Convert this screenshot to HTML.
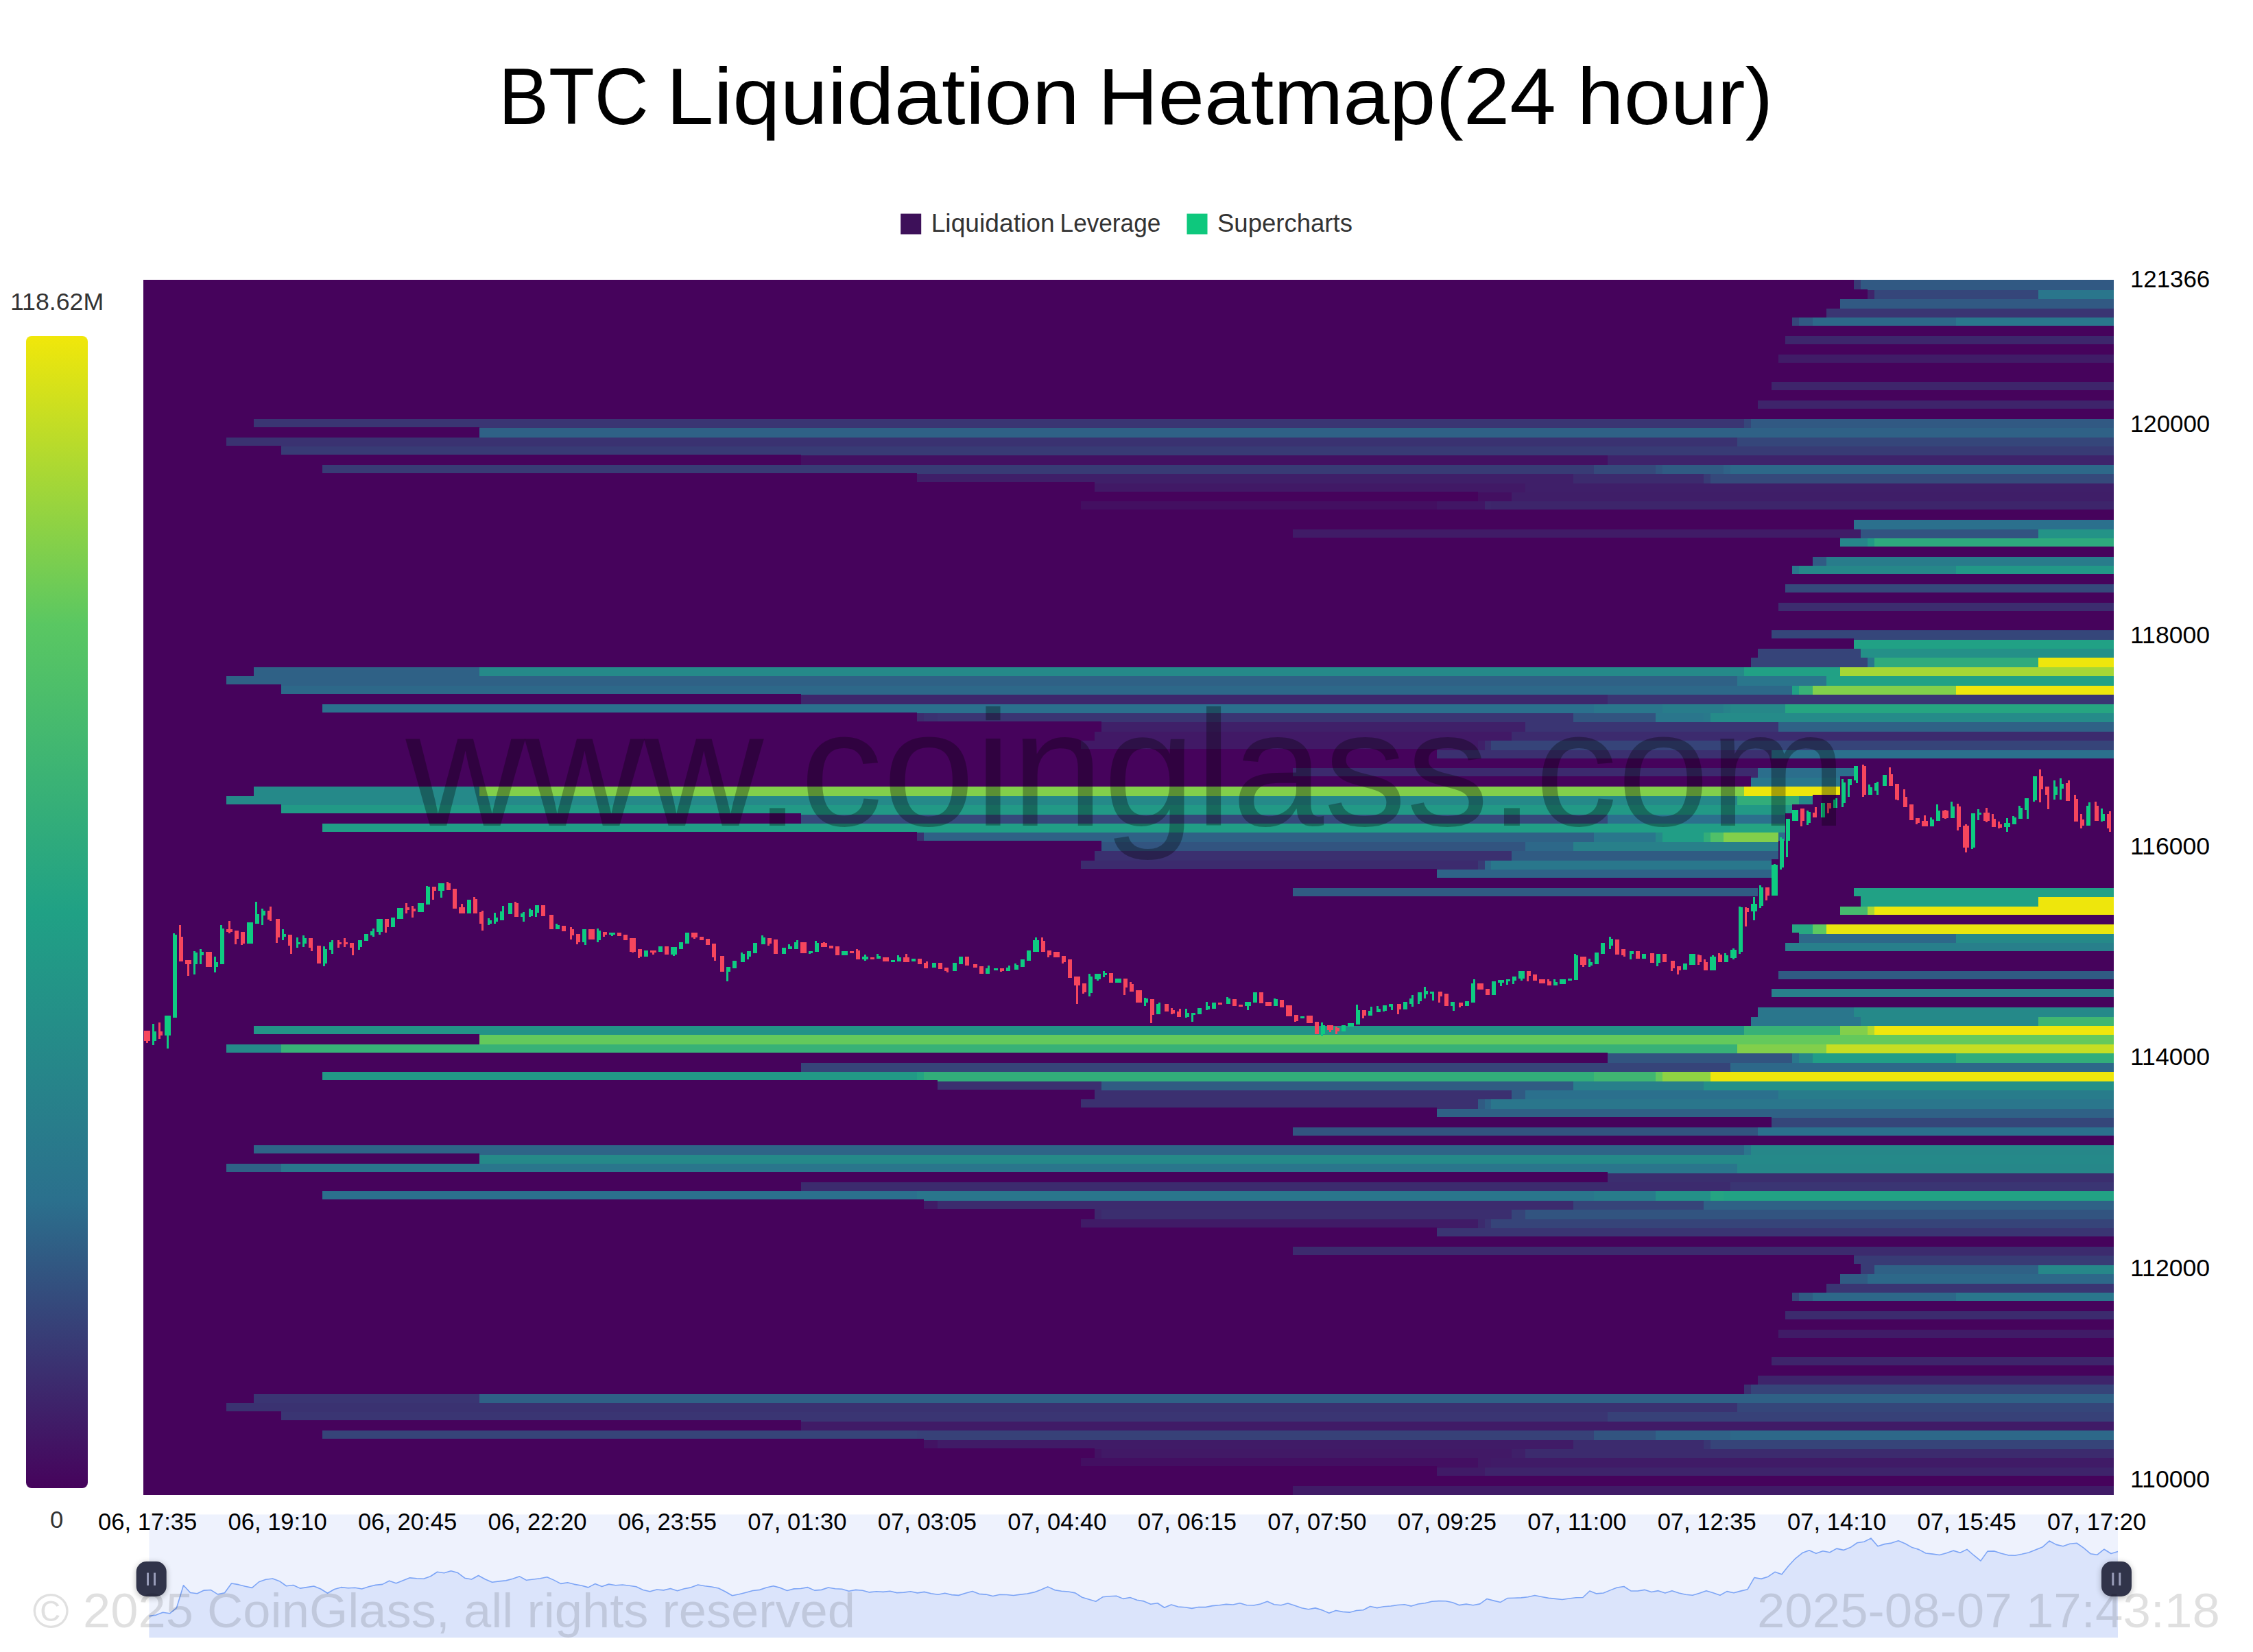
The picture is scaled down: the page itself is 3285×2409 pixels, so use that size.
<!DOCTYPE html>
<html><head><meta charset="utf-8"><title>BTC Liquidation Heatmap</title>
<style>
html,body{margin:0;padding:0;background:#fff;}
body{width:3285px;height:2409px;overflow:hidden;font-family:"Liberation Sans",sans-serif;}
svg{display:block;position:absolute;left:0;top:0;}
svg text{font-family:"Liberation Sans",sans-serif;white-space:pre;}
</style></head><body>
<svg width="3285" height="2409" viewBox="0 0 3285 2409">
<defs><filter id="hb" x="-50%" y="-50%" width="200%" height="200%"><feGaussianBlur stdDeviation="5"/></filter><linearGradient id="cb" x1="0" y1="0" x2="0" y2="1"><stop offset="0" stop-color="#f1e70a"/><stop offset="0.25" stop-color="#5ac762"/><stop offset="0.5" stop-color="#20a185"/><stop offset="0.75" stop-color="#2b708d"/><stop offset="1" stop-color="#46035c"/></linearGradient></defs>
<g id="slider"><rect x="217.5" y="2208.5" width="2870.5" height="179.5" fill="#eef2fd"/>
<path d="M217.5 2356.62 L227.5 2355.12 L237.5 2351.22 L247.51 2352.8 L257.51 2344.58 L267.51 2311.71 L277.51 2322.56 L287.51 2323.83 L297.51 2319.08 L307.52 2318.56 L317.52 2324.88 L327.52 2322.77 L337.52 2309.07 L347.52 2310.65 L357.52 2313.29 L367.53 2315.4 L377.53 2306.76 L387.53 2303.28 L397.53 2302.01 L407.53 2305.7 L417.53 2312.76 L427.54 2311.5 L437.54 2316.13 L447.54 2314.66 L457.54 2312.97 L467.54 2316.98 L477.55 2323.3 L487.55 2317.5 L497.55 2314.66 L507.55 2315.71 L517.55 2315.19 L527.55 2316.98 L537.56 2313.82 L547.56 2311.39 L557.56 2310.34 L567.56 2305.17 L577.56 2308.76 L587.56 2304.86 L597.57 2300.85 L607.57 2301.7 L617.57 2302.22 L627.57 2298.75 L637.57 2292.21 L647.57 2293.79 L657.58 2290.84 L667.58 2293.58 L677.58 2301.17 L687.58 2302.96 L697.58 2297.48 L707.59 2303.07 L717.59 2307.28 L727.59 2305.91 L737.59 2304.86 L747.59 2302.22 L757.59 2298.85 L767.6 2304.33 L777.6 2303.07 L787.6 2301.7 L797.6 2299.8 L807.6 2304.12 L817.6 2309.39 L827.61 2307.81 L837.61 2310.34 L847.61 2311.92 L857.61 2314.87 L867.61 2309.6 L877.61 2313.6 L887.62 2310.13 L897.62 2311.71 L907.62 2310.97 L917.62 2312.23 L927.62 2313.82 L937.63 2318.56 L947.63 2320.66 L957.63 2318.03 L967.63 2318.87 L977.63 2316.45 L987.63 2319.82 L997.64 2316.77 L1007.64 2314.87 L1017.64 2310.97 L1027.64 2312.76 L1037.64 2314.03 L1047.64 2315.92 L1057.65 2321.04 L1067.65 2326.69 L1077.65 2324.77 L1087.65 2322.22 L1097.65 2319.44 L1107.66 2318.38 L1117.66 2314.97 L1127.66 2312.83 L1137.66 2315.39 L1147.66 2319.44 L1157.66 2316.88 L1167.67 2316.56 L1177.67 2314.65 L1187.67 2319.12 L1197.67 2318.38 L1207.67 2314.97 L1217.67 2316.78 L1227.68 2317.31 L1237.68 2320.19 L1247.68 2318.38 L1257.68 2319.23 L1267.68 2321.9 L1277.68 2320.72 L1287.69 2321.36 L1297.69 2320.3 L1307.69 2322.64 L1317.69 2322.11 L1327.69 2320.83 L1337.7 2322.85 L1347.7 2321.36 L1357.7 2323.71 L1367.7 2325.31 L1377.7 2323.17 L1387.7 2325.63 L1397.71 2326.37 L1407.71 2323.17 L1417.71 2320.51 L1427.71 2324.35 L1437.71 2325.09 L1447.71 2327.55 L1457.72 2325.31 L1467.72 2325.52 L1477.72 2326.48 L1487.72 2325.09 L1497.72 2324.03 L1507.72 2321.9 L1517.73 2318.16 L1527.73 2313.9 L1537.73 2318.59 L1547.73 2320.19 L1557.73 2321.04 L1567.74 2322.85 L1577.74 2329.25 L1587.74 2332.24 L1597.74 2335.22 L1607.74 2328.82 L1617.74 2327.76 L1627.75 2327.23 L1637.75 2331.38 L1647.75 2329.57 L1657.75 2333.3 L1667.75 2334.9 L1677.75 2339.27 L1687.76 2337.78 L1697.76 2344.28 L1707.76 2340.02 L1717.76 2343.11 L1727.76 2343.75 L1737.76 2345.35 L1747.77 2343.43 L1757.77 2343.64 L1767.77 2341.62 L1777.77 2340.77 L1787.77 2339.38 L1797.78 2340.02 L1807.78 2337.78 L1817.78 2340.77 L1827.78 2340.98 L1837.78 2338.95 L1847.78 2335.22 L1857.79 2339.7 L1867.79 2340.77 L1877.79 2338.1 L1887.79 2341.3 L1897.79 2344.82 L1907.79 2346.78 L1917.8 2344.86 L1927.8 2347.86 L1937.8 2352.16 L1947.8 2348.47 L1957.8 2350.4 L1967.8 2351.16 L1977.81 2348.47 L1987.81 2347.71 L1997.81 2342.56 L2007.81 2344.63 L2017.81 2342.71 L2027.82 2341.94 L2037.82 2340.56 L2047.82 2339.79 L2057.82 2342.1 L2067.82 2339.02 L2077.82 2337.71 L2087.83 2335.18 L2097.83 2334.64 L2107.83 2334.79 L2117.83 2336.79 L2127.83 2340.64 L2137.83 2339.1 L2147.84 2340.79 L2157.84 2338.87 L2167.84 2331.57 L2177.84 2334.1 L2187.84 2336.41 L2197.84 2330.57 L2207.85 2330.18 L2217.85 2329.88 L2227.85 2328.72 L2237.85 2326.42 L2247.85 2328.49 L2257.86 2330.41 L2267.86 2331.41 L2277.86 2332.49 L2287.86 2330.95 L2297.86 2329.8 L2307.86 2329.49 L2317.87 2320.04 L2327.87 2323.88 L2337.87 2322.96 L2347.87 2318.88 L2357.87 2315.04 L2367.87 2313.5 L2377.88 2319.88 L2387.88 2320.04 L2397.88 2318.35 L2407.88 2321.42 L2417.88 2319.65 L2427.89 2323.11 L2437.89 2319.65 L2447.89 2322.96 L2457.89 2325.26 L2467.89 2326.19 L2477.89 2323.34 L2487.9 2319.65 L2497.9 2322.77 L2507.9 2326.2 L2517.9 2320.64 L2527.9 2322.77 L2537.9 2320.11 L2547.91 2317.83 L2557.91 2300.55 L2567.91 2302.38 L2577.91 2299.18 L2587.91 2292.33 L2597.91 2295.76 L2607.92 2283.21 L2617.92 2272.56 L2627.92 2264.57 L2637.92 2260.76 L2647.92 2265.33 L2657.93 2261.68 L2667.93 2263.81 L2677.93 2258.1 L2687.93 2260.38 L2697.93 2256.58 L2707.93 2249.73 L2717.94 2248.21 L2727.94 2243.11 L2737.94 2254.68 L2747.94 2251.63 L2757.94 2250.11 L2767.94 2246.68 L2777.95 2251.02 L2787.95 2256.58 L2797.95 2259.62 L2807.95 2264.95 L2817.95 2266.09 L2827.95 2267.46 L2837.96 2264.72 L2847.96 2261.14 L2857.96 2264.19 L2867.96 2259.39 L2877.96 2267.99 L2887.97 2276.14 L2897.97 2262.13 L2907.97 2261.9 L2917.97 2265.33 L2927.97 2267.84 L2937.97 2268.22 L2947.98 2266.24 L2957.98 2263.96 L2967.98 2260 L2977.98 2256.04 L2987.98 2247.06 L2997.98 2252.39 L3007.99 2254.68 L3017.99 2251.25 L3027.99 2250.26 L3037.99 2257.19 L3047.99 2265.71 L3057.99 2267.23 L3068 2259.24 L3078 2265.48 L3088 2262.44 L3088 2388 L217.5 2388 Z" fill="#dbe4fb"/>
<path d="M217.5 2356.62 L227.5 2355.12 L237.5 2351.22 L247.51 2352.8 L257.51 2344.58 L267.51 2311.71 L277.51 2322.56 L287.51 2323.83 L297.51 2319.08 L307.52 2318.56 L317.52 2324.88 L327.52 2322.77 L337.52 2309.07 L347.52 2310.65 L357.52 2313.29 L367.53 2315.4 L377.53 2306.76 L387.53 2303.28 L397.53 2302.01 L407.53 2305.7 L417.53 2312.76 L427.54 2311.5 L437.54 2316.13 L447.54 2314.66 L457.54 2312.97 L467.54 2316.98 L477.55 2323.3 L487.55 2317.5 L497.55 2314.66 L507.55 2315.71 L517.55 2315.19 L527.55 2316.98 L537.56 2313.82 L547.56 2311.39 L557.56 2310.34 L567.56 2305.17 L577.56 2308.76 L587.56 2304.86 L597.57 2300.85 L607.57 2301.7 L617.57 2302.22 L627.57 2298.75 L637.57 2292.21 L647.57 2293.79 L657.58 2290.84 L667.58 2293.58 L677.58 2301.17 L687.58 2302.96 L697.58 2297.48 L707.59 2303.07 L717.59 2307.28 L727.59 2305.91 L737.59 2304.86 L747.59 2302.22 L757.59 2298.85 L767.6 2304.33 L777.6 2303.07 L787.6 2301.7 L797.6 2299.8 L807.6 2304.12 L817.6 2309.39 L827.61 2307.81 L837.61 2310.34 L847.61 2311.92 L857.61 2314.87 L867.61 2309.6 L877.61 2313.6 L887.62 2310.13 L897.62 2311.71 L907.62 2310.97 L917.62 2312.23 L927.62 2313.82 L937.63 2318.56 L947.63 2320.66 L957.63 2318.03 L967.63 2318.87 L977.63 2316.45 L987.63 2319.82 L997.64 2316.77 L1007.64 2314.87 L1017.64 2310.97 L1027.64 2312.76 L1037.64 2314.03 L1047.64 2315.92 L1057.65 2321.04 L1067.65 2326.69 L1077.65 2324.77 L1087.65 2322.22 L1097.65 2319.44 L1107.66 2318.38 L1117.66 2314.97 L1127.66 2312.83 L1137.66 2315.39 L1147.66 2319.44 L1157.66 2316.88 L1167.67 2316.56 L1177.67 2314.65 L1187.67 2319.12 L1197.67 2318.38 L1207.67 2314.97 L1217.67 2316.78 L1227.68 2317.31 L1237.68 2320.19 L1247.68 2318.38 L1257.68 2319.23 L1267.68 2321.9 L1277.68 2320.72 L1287.69 2321.36 L1297.69 2320.3 L1307.69 2322.64 L1317.69 2322.11 L1327.69 2320.83 L1337.7 2322.85 L1347.7 2321.36 L1357.7 2323.71 L1367.7 2325.31 L1377.7 2323.17 L1387.7 2325.63 L1397.71 2326.37 L1407.71 2323.17 L1417.71 2320.51 L1427.71 2324.35 L1437.71 2325.09 L1447.71 2327.55 L1457.72 2325.31 L1467.72 2325.52 L1477.72 2326.48 L1487.72 2325.09 L1497.72 2324.03 L1507.72 2321.9 L1517.73 2318.16 L1527.73 2313.9 L1537.73 2318.59 L1547.73 2320.19 L1557.73 2321.04 L1567.74 2322.85 L1577.74 2329.25 L1587.74 2332.24 L1597.74 2335.22 L1607.74 2328.82 L1617.74 2327.76 L1627.75 2327.23 L1637.75 2331.38 L1647.75 2329.57 L1657.75 2333.3 L1667.75 2334.9 L1677.75 2339.27 L1687.76 2337.78 L1697.76 2344.28 L1707.76 2340.02 L1717.76 2343.11 L1727.76 2343.75 L1737.76 2345.35 L1747.77 2343.43 L1757.77 2343.64 L1767.77 2341.62 L1777.77 2340.77 L1787.77 2339.38 L1797.78 2340.02 L1807.78 2337.78 L1817.78 2340.77 L1827.78 2340.98 L1837.78 2338.95 L1847.78 2335.22 L1857.79 2339.7 L1867.79 2340.77 L1877.79 2338.1 L1887.79 2341.3 L1897.79 2344.82 L1907.79 2346.78 L1917.8 2344.86 L1927.8 2347.86 L1937.8 2352.16 L1947.8 2348.47 L1957.8 2350.4 L1967.8 2351.16 L1977.81 2348.47 L1987.81 2347.71 L1997.81 2342.56 L2007.81 2344.63 L2017.81 2342.71 L2027.82 2341.94 L2037.82 2340.56 L2047.82 2339.79 L2057.82 2342.1 L2067.82 2339.02 L2077.82 2337.71 L2087.83 2335.18 L2097.83 2334.64 L2107.83 2334.79 L2117.83 2336.79 L2127.83 2340.64 L2137.83 2339.1 L2147.84 2340.79 L2157.84 2338.87 L2167.84 2331.57 L2177.84 2334.1 L2187.84 2336.41 L2197.84 2330.57 L2207.85 2330.18 L2217.85 2329.88 L2227.85 2328.72 L2237.85 2326.42 L2247.85 2328.49 L2257.86 2330.41 L2267.86 2331.41 L2277.86 2332.49 L2287.86 2330.95 L2297.86 2329.8 L2307.86 2329.49 L2317.87 2320.04 L2327.87 2323.88 L2337.87 2322.96 L2347.87 2318.88 L2357.87 2315.04 L2367.87 2313.5 L2377.88 2319.88 L2387.88 2320.04 L2397.88 2318.35 L2407.88 2321.42 L2417.88 2319.65 L2427.89 2323.11 L2437.89 2319.65 L2447.89 2322.96 L2457.89 2325.26 L2467.89 2326.19 L2477.89 2323.34 L2487.9 2319.65 L2497.9 2322.77 L2507.9 2326.2 L2517.9 2320.64 L2527.9 2322.77 L2537.9 2320.11 L2547.91 2317.83 L2557.91 2300.55 L2567.91 2302.38 L2577.91 2299.18 L2587.91 2292.33 L2597.91 2295.76 L2607.92 2283.21 L2617.92 2272.56 L2627.92 2264.57 L2637.92 2260.76 L2647.92 2265.33 L2657.93 2261.68 L2667.93 2263.81 L2677.93 2258.1 L2687.93 2260.38 L2697.93 2256.58 L2707.93 2249.73 L2717.94 2248.21 L2727.94 2243.11 L2737.94 2254.68 L2747.94 2251.63 L2757.94 2250.11 L2767.94 2246.68 L2777.95 2251.02 L2787.95 2256.58 L2797.95 2259.62 L2807.95 2264.95 L2817.95 2266.09 L2827.95 2267.46 L2837.96 2264.72 L2847.96 2261.14 L2857.96 2264.19 L2867.96 2259.39 L2877.96 2267.99 L2887.97 2276.14 L2897.97 2262.13 L2907.97 2261.9 L2917.97 2265.33 L2927.97 2267.84 L2937.97 2268.22 L2947.98 2266.24 L2957.98 2263.96 L2967.98 2260 L2977.98 2256.04 L2987.98 2247.06 L2997.98 2252.39 L3007.99 2254.68 L3017.99 2251.25 L3027.99 2250.26 L3037.99 2257.19 L3047.99 2265.71 L3057.99 2267.23 L3068 2259.24 L3078 2265.48 L3088 2262.44" fill="none" stroke="#7da5f6" stroke-width="1.6" stroke-linejoin="round"/>
<rect x="198.7" y="2279" width="44" height="51" rx="15" fill="#000" opacity="0.28" filter="url(#hb)"/><rect x="198.7" y="2277" width="44" height="51" rx="15" fill="#31344a"/><rect x="214" y="2293.5" width="3" height="18.5" fill="#989cb8"/><rect x="224" y="2293.5" width="3" height="18.5" fill="#989cb8"/>
<rect x="3064" y="2279" width="44" height="51" rx="15" fill="#000" opacity="0.28" filter="url(#hb)"/><rect x="3064" y="2277" width="44" height="51" rx="15" fill="#31344a"/><rect x="3079.3" y="2293.5" width="3" height="18.5" fill="#989cb8"/><rect x="3089.3" y="2293.5" width="3" height="18.5" fill="#989cb8"/></g>
<g id="legend"><rect x="38" y="490" width="90" height="1680" rx="8" fill="url(#cb)"/><rect x="1313.2" y="311.6" width="30" height="30" fill="#3d1059"/><rect x="1730.5" y="311.6" width="30" height="30" fill="#0ec87d"/></g>
<g id="heat" shape-rendering="crispEdges">
<rect x="209" y="408" width="2872.5" height="1771.5" fill="#46035c"/>
<rect x="2702.85" y="408" width="9.97" height="13.5" fill="#383b75"/>
<rect x="2712.82" y="408" width="9.97" height="13.5" fill="#315983"/>
<rect x="2722.79" y="408" width="358.71" height="14.91" fill="#315983"/>
<rect x="2722.79" y="422.91" width="9.97" height="13.41" fill="#3e256b"/>
<rect x="2732.76" y="422.91" width="239.26" height="13.41" fill="#35467a"/>
<rect x="2972.01" y="422.91" width="109.49" height="13.41" fill="#2a768c"/>
<rect x="2682.91" y="436.33" width="398.59" height="13.41" fill="#315983"/>
<rect x="2662.97" y="449.74" width="418.53" height="13.41" fill="#3a3573"/>
<rect x="2613.13" y="463.16" width="9.97" height="12" fill="#35467a"/>
<rect x="2623.1" y="463.16" width="19.94" height="12" fill="#315983"/>
<rect x="2643.04" y="463.16" width="209.35" height="12" fill="#2d6889"/>
<rect x="2852.38" y="463.16" width="229.12" height="12" fill="#2a768c"/>
<rect x="2603.16" y="489.98" width="478.34" height="12" fill="#3d276c"/>
<rect x="2593.19" y="516.81" width="488.31" height="12" fill="#401c67"/>
<rect x="2583.22" y="557.05" width="498.28" height="12" fill="#3e256b"/>
<rect x="2563.28" y="583.88" width="518.22" height="12" fill="#3e246b"/>
<rect x="370.1" y="610.71" width="328.98" height="12" fill="#3a3573"/>
<rect x="699.08" y="610.71" width="1844.26" height="13.41" fill="#3a3573"/>
<rect x="2543.35" y="610.71" width="9.97" height="13.41" fill="#35467a"/>
<rect x="2553.31" y="610.71" width="528.19" height="13.41" fill="#315983"/>
<rect x="699.08" y="624.12" width="2382.42" height="13.41" fill="#2f6186"/>
<rect x="330.23" y="637.54" width="79.75" height="12" fill="#3a3271"/>
<rect x="409.98" y="637.54" width="2123.4" height="13.41" fill="#3a3271"/>
<rect x="2533.38" y="637.54" width="548.12" height="13.41" fill="#35467a"/>
<rect x="409.98" y="650.95" width="757.64" height="12" fill="#383b75"/>
<rect x="1167.62" y="650.95" width="1913.88" height="13.41" fill="#383b75"/>
<rect x="1167.62" y="664.37" width="1176.34" height="13.41" fill="#431062"/>
<rect x="2343.97" y="664.37" width="737.53" height="13.41" fill="#3e236b"/>
<rect x="469.79" y="677.78" width="867.3" height="12" fill="#383b75"/>
<rect x="1337.1" y="677.78" width="986.93" height="13.41" fill="#383b75"/>
<rect x="2324.03" y="677.78" width="89.72" height="13.41" fill="#35497b"/>
<rect x="2413.75" y="677.78" width="9.97" height="13.41" fill="#325480"/>
<rect x="2423.72" y="677.78" width="89.72" height="13.41" fill="#305b83"/>
<rect x="2513.44" y="677.78" width="9.97" height="13.41" fill="#2f6287"/>
<rect x="2523.41" y="677.78" width="558.09" height="13.41" fill="#2d6889"/>
<rect x="1337.1" y="691.19" width="259.19" height="12" fill="#3f1f69"/>
<rect x="1596.29" y="691.19" width="697.83" height="13.41" fill="#3f1f69"/>
<rect x="2294.12" y="691.19" width="189.41" height="13.41" fill="#3c2b6e"/>
<rect x="2483.53" y="691.19" width="9.97" height="13.41" fill="#383b75"/>
<rect x="2493.5" y="691.19" width="588" height="13.41" fill="#35497b"/>
<rect x="1596.29" y="704.61" width="558.26" height="12" fill="#411966"/>
<rect x="2154.55" y="704.61" width="69.78" height="13.41" fill="#411966"/>
<rect x="2224.34" y="704.61" width="857.16" height="13.41" fill="#3f1f69"/>
<rect x="2154.55" y="718.02" width="49.85" height="13.41" fill="#430f61"/>
<rect x="2204.4" y="718.02" width="877.1" height="13.41" fill="#3f1e68"/>
<rect x="1576.35" y="731.44" width="518.39" height="12" fill="#430f61"/>
<rect x="2094.74" y="731.44" width="69.78" height="12" fill="#411665"/>
<rect x="2164.52" y="731.44" width="9.97" height="12" fill="#3d276c"/>
<rect x="2174.49" y="731.44" width="907.01" height="12" fill="#3d256b"/>
<rect x="2702.85" y="758.26" width="378.65" height="13.41" fill="#2b708d"/>
<rect x="1885.39" y="771.68" width="797.52" height="12" fill="#401b67"/>
<rect x="2682.91" y="771.68" width="29.91" height="13.41" fill="#401b67"/>
<rect x="2712.82" y="771.68" width="259.19" height="13.41" fill="#325481"/>
<rect x="2972.01" y="771.68" width="109.49" height="13.41" fill="#239387"/>
<rect x="2682.91" y="785.09" width="39.88" height="12" fill="#26858a"/>
<rect x="2722.79" y="785.09" width="9.97" height="12" fill="#229886"/>
<rect x="2732.76" y="785.09" width="348.74" height="12" fill="#2eaa7d"/>
<rect x="2643.04" y="811.92" width="19.94" height="13.41" fill="#305b84"/>
<rect x="2662.97" y="811.92" width="418.53" height="13.41" fill="#287c8b"/>
<rect x="2613.13" y="825.33" width="9.97" height="12" fill="#29778c"/>
<rect x="2623.1" y="825.33" width="229.29" height="12" fill="#268789"/>
<rect x="2852.38" y="825.33" width="229.12" height="12" fill="#229887"/>
<rect x="2603.16" y="852.16" width="478.34" height="12" fill="#35497b"/>
<rect x="2593.19" y="878.99" width="488.31" height="12" fill="#3c2d6f"/>
<rect x="2583.22" y="919.23" width="119.63" height="12" fill="#35467a"/>
<rect x="2702.85" y="919.23" width="378.65" height="13.41" fill="#35467a"/>
<rect x="2702.85" y="932.65" width="378.65" height="13.41" fill="#21a185"/>
<rect x="2563.28" y="946.06" width="149.54" height="13.41" fill="#364479"/>
<rect x="2712.82" y="946.06" width="368.68" height="13.41" fill="#249088"/>
<rect x="2553.31" y="959.47" width="169.47" height="13.41" fill="#364479"/>
<rect x="2722.79" y="959.47" width="9.97" height="13.41" fill="#29778c"/>
<rect x="2732.76" y="959.47" width="239.26" height="13.41" fill="#2fab7c"/>
<rect x="2972.01" y="959.47" width="109.49" height="13.41" fill="#eee60c"/>
<rect x="370.1" y="972.89" width="328.98" height="13.41" fill="#2f6186"/>
<rect x="699.08" y="972.89" width="1844.26" height="13.41" fill="#258989"/>
<rect x="2543.35" y="972.89" width="139.57" height="13.41" fill="#21a185"/>
<rect x="2682.91" y="972.89" width="398.59" height="13.41" fill="#a5d736"/>
<rect x="330.23" y="986.3" width="79.75" height="12" fill="#2f6186"/>
<rect x="409.98" y="986.3" width="2123.4" height="13.41" fill="#2f6186"/>
<rect x="2533.38" y="986.3" width="129.6" height="13.41" fill="#2a768c"/>
<rect x="2662.97" y="986.3" width="418.53" height="13.41" fill="#21a185"/>
<rect x="409.98" y="999.72" width="757.64" height="12" fill="#2d6889"/>
<rect x="1167.62" y="999.72" width="1445.51" height="13.41" fill="#2d6889"/>
<rect x="2613.13" y="999.72" width="9.97" height="13.41" fill="#20a085"/>
<rect x="2623.1" y="999.72" width="19.94" height="13.41" fill="#38b177"/>
<rect x="2643.04" y="999.72" width="209.35" height="13.41" fill="#82cf4b"/>
<rect x="2852.38" y="999.72" width="229.12" height="13.41" fill="#eee60c"/>
<rect x="1167.62" y="1013.13" width="1176.34" height="13.41" fill="#3d276c"/>
<rect x="2343.97" y="1013.13" width="737.53" height="13.41" fill="#3a3573"/>
<rect x="469.79" y="1026.54" width="867.3" height="12" fill="#2b708d"/>
<rect x="1337.1" y="1026.54" width="986.93" height="13.41" fill="#2b708d"/>
<rect x="2324.03" y="1026.54" width="99.69" height="13.41" fill="#2a768c"/>
<rect x="2423.72" y="1026.54" width="89.72" height="13.41" fill="#287c8b"/>
<rect x="2513.44" y="1026.54" width="9.97" height="13.41" fill="#27828a"/>
<rect x="2523.41" y="1026.54" width="79.75" height="13.41" fill="#268789"/>
<rect x="2603.16" y="1026.54" width="478.34" height="13.41" fill="#26a581"/>
<rect x="1337.1" y="1039.96" width="9.97" height="12" fill="#3c2c6e"/>
<rect x="1347.07" y="1039.96" width="19.94" height="12" fill="#3a3271"/>
<rect x="1367" y="1039.96" width="239.26" height="12" fill="#3a3573"/>
<rect x="1606.26" y="1039.96" width="687.86" height="13.41" fill="#3a3573"/>
<rect x="2294.12" y="1039.96" width="119.63" height="13.41" fill="#325480"/>
<rect x="2413.75" y="1039.96" width="69.78" height="13.41" fill="#2a768c"/>
<rect x="2483.53" y="1039.96" width="9.97" height="13.41" fill="#29798b"/>
<rect x="2493.5" y="1039.96" width="588" height="13.41" fill="#258b89"/>
<rect x="1606.26" y="1053.37" width="618.08" height="13.41" fill="#3f2069"/>
<rect x="2224.34" y="1053.37" width="368.85" height="13.41" fill="#3a3573"/>
<rect x="2593.19" y="1053.37" width="488.31" height="13.41" fill="#2f6186"/>
<rect x="1596.29" y="1066.79" width="608.11" height="13.41" fill="#411966"/>
<rect x="2204.4" y="1066.79" width="877.1" height="13.41" fill="#3c2b6e"/>
<rect x="1576.35" y="1080.2" width="518.39" height="12" fill="#411966"/>
<rect x="2094.74" y="1080.2" width="59.81" height="13.41" fill="#411966"/>
<rect x="2154.55" y="1080.2" width="9.97" height="13.41" fill="#3f2069"/>
<rect x="2164.52" y="1080.2" width="9.97" height="13.41" fill="#3b3070"/>
<rect x="2174.49" y="1080.2" width="907.01" height="13.41" fill="#364479"/>
<rect x="2094.74" y="1093.61" width="488.48" height="12" fill="#3b3070"/>
<rect x="2583.22" y="1093.61" width="498.28" height="12" fill="#2b708d"/>
<rect x="1885.39" y="1120.44" width="667.92" height="12" fill="#3c2a6e"/>
<rect x="2553.31" y="1120.44" width="9.97" height="13.41" fill="#3c2a6e"/>
<rect x="2563.28" y="1120.44" width="119.63" height="13.41" fill="#2b6e8c"/>
<rect x="2682.91" y="1120.44" width="19.94" height="12" fill="#2b6e8c"/>
<rect x="2553.31" y="1133.86" width="129.6" height="13.41" fill="#29778c"/>
<rect x="370.1" y="1147.27" width="328.98" height="13.41" fill="#258989"/>
<rect x="699.08" y="1147.27" width="1844.26" height="13.41" fill="#82cf4b"/>
<rect x="2543.35" y="1147.27" width="99.69" height="13.41" fill="#eee60c"/>
<rect x="2643.04" y="1147.27" width="39.88" height="12" fill="#eee60c"/>
<rect x="330.23" y="1160.68" width="79.75" height="12" fill="#258989"/>
<rect x="409.98" y="1160.68" width="2123.4" height="13.41" fill="#258989"/>
<rect x="2533.38" y="1160.68" width="79.75" height="13.41" fill="#32ad7a"/>
<rect x="2613.13" y="1160.68" width="9.97" height="12" fill="#32ad7a"/>
<rect x="2623.1" y="1160.68" width="19.94" height="12" fill="#258989"/>
<rect x="409.98" y="1174.1" width="757.64" height="12" fill="#229986"/>
<rect x="1167.62" y="1174.1" width="1435.54" height="13.41" fill="#229986"/>
<rect x="2603.16" y="1174.1" width="9.97" height="12" fill="#229986"/>
<rect x="1167.62" y="1187.51" width="1176.34" height="13.41" fill="#35497b"/>
<rect x="2343.97" y="1187.51" width="259.19" height="13.41" fill="#2b708d"/>
<rect x="469.79" y="1200.93" width="867.3" height="12" fill="#219e86"/>
<rect x="1337.1" y="1200.93" width="1186.31" height="13.41" fill="#219e86"/>
<rect x="2523.41" y="1200.93" width="79.75" height="13.41" fill="#25a482"/>
<rect x="1337.1" y="1214.34" width="9.97" height="12" fill="#3a3271"/>
<rect x="1347.07" y="1214.34" width="259.19" height="12" fill="#2f6186"/>
<rect x="1606.26" y="1214.34" width="717.77" height="13.41" fill="#2f6186"/>
<rect x="2324.03" y="1214.34" width="89.72" height="13.41" fill="#29778c"/>
<rect x="2413.75" y="1214.34" width="9.97" height="13.41" fill="#258989"/>
<rect x="2423.72" y="1214.34" width="59.81" height="13.41" fill="#219e86"/>
<rect x="2483.53" y="1214.34" width="9.97" height="13.41" fill="#32ad7a"/>
<rect x="2493.5" y="1214.34" width="19.94" height="13.41" fill="#50c068"/>
<rect x="2513.44" y="1214.34" width="79.75" height="13.41" fill="#82cf4b"/>
<rect x="2593.19" y="1214.34" width="9.97" height="12" fill="#2b6e8c"/>
<rect x="1606.26" y="1227.75" width="618.08" height="13.41" fill="#325480"/>
<rect x="2224.34" y="1227.75" width="69.78" height="13.41" fill="#2d6889"/>
<rect x="2294.12" y="1227.75" width="299.07" height="13.41" fill="#28808a"/>
<rect x="1596.29" y="1241.17" width="608.11" height="13.41" fill="#3b3070"/>
<rect x="2204.4" y="1241.17" width="378.82" height="13.41" fill="#305b83"/>
<rect x="2583.22" y="1241.17" width="9.97" height="12" fill="#305b83"/>
<rect x="1576.35" y="1254.58" width="518.39" height="12" fill="#3c2b6e"/>
<rect x="2094.74" y="1254.58" width="59.81" height="13.41" fill="#3c2b6e"/>
<rect x="2154.55" y="1254.58" width="9.97" height="13.41" fill="#383b75"/>
<rect x="2164.52" y="1254.58" width="9.97" height="13.41" fill="#2d6889"/>
<rect x="2174.49" y="1254.58" width="408.73" height="13.41" fill="#29778c"/>
<rect x="2094.74" y="1268" width="488.48" height="12" fill="#2e6488"/>
<rect x="1885.39" y="1294.82" width="677.89" height="12" fill="#305b83"/>
<rect x="2702.85" y="1294.82" width="9.97" height="12" fill="#21a185"/>
<rect x="2712.82" y="1294.82" width="368.68" height="13.41" fill="#21a185"/>
<rect x="2712.82" y="1308.24" width="259.19" height="13.41" fill="#21a185"/>
<rect x="2972.01" y="1308.24" width="109.49" height="13.41" fill="#eee60c"/>
<rect x="2682.91" y="1321.65" width="39.88" height="12" fill="#46ba6e"/>
<rect x="2722.79" y="1321.65" width="9.97" height="12" fill="#a6d736"/>
<rect x="2732.76" y="1321.65" width="348.74" height="12" fill="#eee60c"/>
<rect x="2613.13" y="1348.48" width="9.97" height="12" fill="#27a681"/>
<rect x="2623.1" y="1348.48" width="19.94" height="13.41" fill="#27a681"/>
<rect x="2643.04" y="1348.48" width="19.94" height="13.41" fill="#5dc860"/>
<rect x="2662.97" y="1348.48" width="418.53" height="13.41" fill="#e8e50f"/>
<rect x="2623.1" y="1361.89" width="229.29" height="13.41" fill="#2d6889"/>
<rect x="2852.38" y="1361.89" width="229.12" height="13.41" fill="#258989"/>
<rect x="2603.16" y="1375.31" width="478.34" height="12" fill="#287f8b"/>
<rect x="2593.19" y="1415.55" width="488.31" height="12" fill="#305b83"/>
<rect x="2583.22" y="1442.38" width="498.28" height="12" fill="#287f8b"/>
<rect x="2563.28" y="1469.21" width="139.57" height="13.41" fill="#2a768c"/>
<rect x="2702.85" y="1469.21" width="378.65" height="13.41" fill="#258989"/>
<rect x="2553.31" y="1482.62" width="159.5" height="13.41" fill="#2a768c"/>
<rect x="2712.82" y="1482.62" width="259.19" height="13.41" fill="#258989"/>
<rect x="2972.01" y="1482.62" width="109.49" height="13.41" fill="#40b672"/>
<rect x="370.1" y="1496.03" width="328.98" height="12" fill="#239387"/>
<rect x="699.08" y="1496.03" width="1844.26" height="13.41" fill="#239387"/>
<rect x="2543.35" y="1496.03" width="139.57" height="13.41" fill="#38b177"/>
<rect x="2682.91" y="1496.03" width="39.88" height="13.41" fill="#82cf4b"/>
<rect x="2722.79" y="1496.03" width="9.97" height="13.41" fill="#aed931"/>
<rect x="2732.76" y="1496.03" width="348.74" height="13.41" fill="#eee60c"/>
<rect x="699.08" y="1509.45" width="2382.42" height="13.41" fill="#64c95c"/>
<rect x="330.23" y="1522.86" width="79.75" height="12" fill="#258989"/>
<rect x="409.98" y="1522.86" width="1933.99" height="12" fill="#38b177"/>
<rect x="2343.97" y="1522.86" width="189.41" height="13.41" fill="#38b177"/>
<rect x="2533.38" y="1522.86" width="129.6" height="13.41" fill="#82cf4b"/>
<rect x="2662.97" y="1522.86" width="418.53" height="13.41" fill="#c6de23"/>
<rect x="2343.97" y="1536.28" width="269.16" height="13.41" fill="#325480"/>
<rect x="2613.13" y="1536.28" width="9.97" height="13.41" fill="#29778c"/>
<rect x="2623.1" y="1536.28" width="19.94" height="13.41" fill="#268789"/>
<rect x="2643.04" y="1536.28" width="209.35" height="13.41" fill="#219e86"/>
<rect x="2852.38" y="1536.28" width="229.12" height="13.41" fill="#32ad7a"/>
<rect x="1167.62" y="1549.69" width="1355.78" height="13.41" fill="#364479"/>
<rect x="2523.41" y="1549.69" width="558.09" height="13.41" fill="#2d6889"/>
<rect x="469.79" y="1563.1" width="867.3" height="12" fill="#229986"/>
<rect x="1337.1" y="1563.1" width="9.97" height="12" fill="#24a483"/>
<rect x="1347.07" y="1563.1" width="19.94" height="12" fill="#32ad7a"/>
<rect x="1367" y="1563.1" width="957.02" height="13.41" fill="#32ad7a"/>
<rect x="2324.03" y="1563.1" width="89.72" height="13.41" fill="#40b672"/>
<rect x="2413.75" y="1563.1" width="9.97" height="13.41" fill="#64c95c"/>
<rect x="2423.72" y="1563.1" width="69.78" height="13.41" fill="#8fd243"/>
<rect x="2493.5" y="1563.1" width="588" height="13.41" fill="#eee60c"/>
<rect x="1367" y="1576.52" width="229.29" height="12" fill="#3b3070"/>
<rect x="1596.29" y="1576.52" width="9.97" height="13.41" fill="#3b3070"/>
<rect x="1606.26" y="1576.52" width="687.86" height="13.41" fill="#305b83"/>
<rect x="2294.12" y="1576.52" width="189.41" height="13.41" fill="#287f8b"/>
<rect x="2483.53" y="1576.52" width="597.97" height="13.41" fill="#249088"/>
<rect x="1596.29" y="1589.93" width="608.11" height="13.41" fill="#3b3070"/>
<rect x="2204.4" y="1589.93" width="19.94" height="13.41" fill="#305a83"/>
<rect x="2224.34" y="1589.93" width="368.85" height="13.41" fill="#2b708d"/>
<rect x="2593.19" y="1589.93" width="488.31" height="13.41" fill="#287c8b"/>
<rect x="1576.35" y="1603.35" width="518.39" height="12" fill="#3b3070"/>
<rect x="2094.74" y="1603.35" width="59.81" height="13.41" fill="#3b3070"/>
<rect x="2154.55" y="1603.35" width="9.97" height="13.41" fill="#305b83"/>
<rect x="2164.52" y="1603.35" width="9.97" height="13.41" fill="#2d6889"/>
<rect x="2174.49" y="1603.35" width="907.01" height="13.41" fill="#2a768c"/>
<rect x="2094.74" y="1616.76" width="488.48" height="12" fill="#2f6186"/>
<rect x="2583.22" y="1616.76" width="498.28" height="13.41" fill="#2f6186"/>
<rect x="2583.22" y="1630.17" width="498.28" height="13.41" fill="#35467a"/>
<rect x="1885.39" y="1643.59" width="677.89" height="12" fill="#325480"/>
<rect x="2563.28" y="1643.59" width="518.22" height="12" fill="#2b708d"/>
<rect x="370.1" y="1670.42" width="328.98" height="12" fill="#2e6487"/>
<rect x="699.08" y="1670.42" width="1844.26" height="13.41" fill="#2e6487"/>
<rect x="2543.35" y="1670.42" width="9.97" height="13.41" fill="#2a768c"/>
<rect x="2553.31" y="1670.42" width="528.19" height="13.41" fill="#268789"/>
<rect x="699.08" y="1683.83" width="2382.42" height="13.41" fill="#258989"/>
<rect x="330.23" y="1697.24" width="79.75" height="12" fill="#2f6186"/>
<rect x="409.98" y="1697.24" width="1933.99" height="12" fill="#2a768c"/>
<rect x="2343.97" y="1697.24" width="189.41" height="13.41" fill="#2a768c"/>
<rect x="2533.38" y="1697.24" width="548.12" height="13.41" fill="#268789"/>
<rect x="2343.97" y="1710.66" width="737.53" height="13.41" fill="#3b2e6f"/>
<rect x="1167.62" y="1724.07" width="1355.78" height="13.41" fill="#3c2b6e"/>
<rect x="2523.41" y="1724.07" width="558.09" height="13.41" fill="#3a3573"/>
<rect x="469.79" y="1737.49" width="867.3" height="12" fill="#2b708d"/>
<rect x="1337.1" y="1737.49" width="9.97" height="12" fill="#2a768c"/>
<rect x="1347.07" y="1737.49" width="976.96" height="13.41" fill="#2a768c"/>
<rect x="2324.03" y="1737.49" width="89.72" height="13.41" fill="#287c8b"/>
<rect x="2413.75" y="1737.49" width="79.75" height="13.41" fill="#249088"/>
<rect x="2493.5" y="1737.49" width="19.94" height="13.41" fill="#25a482"/>
<rect x="2513.44" y="1737.49" width="568.06" height="13.41" fill="#22a284"/>
<rect x="1347.07" y="1750.9" width="19.94" height="12" fill="#401b67"/>
<rect x="1367" y="1750.9" width="229.29" height="12" fill="#3c2b6e"/>
<rect x="1596.29" y="1750.9" width="697.83" height="13.41" fill="#3c2b6e"/>
<rect x="2294.12" y="1750.9" width="189.41" height="13.41" fill="#364479"/>
<rect x="2483.53" y="1750.9" width="597.97" height="13.41" fill="#2f6186"/>
<rect x="1596.29" y="1764.31" width="9.97" height="13.41" fill="#3d286c"/>
<rect x="1606.26" y="1764.31" width="598.14" height="13.41" fill="#3b2e6f"/>
<rect x="2204.4" y="1764.31" width="19.94" height="13.41" fill="#364479"/>
<rect x="2224.34" y="1764.31" width="857.16" height="13.41" fill="#325480"/>
<rect x="1576.35" y="1777.73" width="518.39" height="12" fill="#401b67"/>
<rect x="2094.74" y="1777.73" width="59.81" height="13.41" fill="#401b67"/>
<rect x="2154.55" y="1777.73" width="9.97" height="13.41" fill="#3c2b6e"/>
<rect x="2164.52" y="1777.73" width="9.97" height="13.41" fill="#3a3573"/>
<rect x="2174.49" y="1777.73" width="907.01" height="13.41" fill="#364479"/>
<rect x="2094.74" y="1791.14" width="986.76" height="12" fill="#3a3573"/>
<rect x="1885.39" y="1817.97" width="817.46" height="12" fill="#3c2b6e"/>
<rect x="2702.85" y="1817.97" width="378.65" height="13.41" fill="#3c2b6e"/>
<rect x="2702.85" y="1831.38" width="9.97" height="12" fill="#383b75"/>
<rect x="2712.82" y="1831.38" width="368.68" height="13.41" fill="#383b75"/>
<rect x="2712.82" y="1844.8" width="19.94" height="13.41" fill="#383b75"/>
<rect x="2732.76" y="1844.8" width="239.26" height="13.41" fill="#2f6186"/>
<rect x="2972.01" y="1844.8" width="109.49" height="13.41" fill="#268789"/>
<rect x="2682.91" y="1858.21" width="39.88" height="13.41" fill="#305b83"/>
<rect x="2722.79" y="1858.21" width="358.71" height="13.41" fill="#2d6889"/>
<rect x="2662.97" y="1871.63" width="418.53" height="13.41" fill="#3a3573"/>
<rect x="2613.13" y="1885.04" width="9.97" height="12" fill="#364479"/>
<rect x="2623.1" y="1885.04" width="19.94" height="12" fill="#305b83"/>
<rect x="2643.04" y="1885.04" width="209.35" height="12" fill="#2d6889"/>
<rect x="2852.38" y="1885.04" width="229.12" height="12" fill="#2a768c"/>
<rect x="2603.16" y="1911.87" width="478.34" height="12" fill="#3c2b6e"/>
<rect x="2593.19" y="1938.7" width="488.31" height="12" fill="#401b67"/>
<rect x="2583.22" y="1978.94" width="498.28" height="12" fill="#3e256b"/>
<rect x="2563.28" y="2005.77" width="518.22" height="13.41" fill="#3e246b"/>
<rect x="2543.35" y="2019.18" width="9.97" height="13.41" fill="#3b3070"/>
<rect x="2553.31" y="2019.18" width="528.19" height="13.41" fill="#364479"/>
<rect x="370.1" y="2032.59" width="328.98" height="13.41" fill="#3a3573"/>
<rect x="699.08" y="2032.59" width="2382.42" height="13.41" fill="#2f6186"/>
<rect x="330.23" y="2046.01" width="79.75" height="12" fill="#3a3271"/>
<rect x="409.98" y="2046.01" width="2123.4" height="13.41" fill="#3a3271"/>
<rect x="2533.38" y="2046.01" width="548.12" height="13.41" fill="#35467a"/>
<rect x="409.98" y="2059.42" width="757.64" height="12" fill="#3a3573"/>
<rect x="1167.62" y="2059.42" width="1176.34" height="13.41" fill="#3a3573"/>
<rect x="2343.97" y="2059.42" width="737.53" height="13.41" fill="#374178"/>
<rect x="1167.62" y="2072.84" width="1913.88" height="13.41" fill="#401b67"/>
<rect x="469.79" y="2086.25" width="867.3" height="12" fill="#364479"/>
<rect x="1337.1" y="2086.25" width="9.97" height="12" fill="#374178"/>
<rect x="1347.07" y="2086.25" width="976.96" height="13.41" fill="#374178"/>
<rect x="2324.03" y="2086.25" width="89.72" height="13.41" fill="#325480"/>
<rect x="2413.75" y="2086.25" width="109.66" height="13.41" fill="#2f6287"/>
<rect x="2523.41" y="2086.25" width="558.09" height="13.41" fill="#2d6889"/>
<rect x="1347.07" y="2099.66" width="19.94" height="12" fill="#421363"/>
<rect x="1367" y="2099.66" width="229.29" height="12" fill="#401b67"/>
<rect x="1596.29" y="2099.66" width="697.83" height="13.41" fill="#401b67"/>
<rect x="2294.12" y="2099.66" width="189.41" height="13.41" fill="#3c2b6e"/>
<rect x="2483.53" y="2099.66" width="9.97" height="13.41" fill="#393673"/>
<rect x="2493.5" y="2099.66" width="588" height="13.41" fill="#364479"/>
<rect x="1596.29" y="2113.08" width="9.97" height="13.41" fill="#421363"/>
<rect x="1606.26" y="2113.08" width="598.14" height="13.41" fill="#411966"/>
<rect x="2204.4" y="2113.08" width="19.94" height="13.41" fill="#3f2069"/>
<rect x="2224.34" y="2113.08" width="857.16" height="13.41" fill="#3c2b6e"/>
<rect x="1576.35" y="2126.49" width="518.39" height="12" fill="#430f62"/>
<rect x="2094.74" y="2126.49" width="59.81" height="13.41" fill="#430f62"/>
<rect x="2154.55" y="2126.49" width="19.94" height="13.41" fill="#411966"/>
<rect x="2174.49" y="2126.49" width="907.01" height="13.41" fill="#401b67"/>
<rect x="2094.74" y="2139.91" width="69.78" height="12" fill="#401b67"/>
<rect x="2164.52" y="2139.91" width="916.98" height="12" fill="#3e246b"/>
<rect x="1885.39" y="2166.73" width="1196.11" height="12.77" fill="#401b67"/>
<rect x="210" y="1502.59" width="9" height="15.85" fill="#f6465d"/>
<rect x="213" y="1502.59" width="3" height="18.86" fill="#f6465d"/>
<rect x="222" y="1504.48" width="6" height="13.2" fill="#0ecb81"/>
<rect x="222" y="1493.16" width="3" height="31.31" fill="#0ecb81"/>
<rect x="231" y="1504.48" width="6" height="5.66" fill="#f6465d"/>
<rect x="231" y="1491.27" width="3" height="23.39" fill="#f6465d"/>
<rect x="240" y="1480.71" width="9" height="29.43" fill="#0ecb81"/>
<rect x="243" y="1480.71" width="3" height="48.29" fill="#0ecb81"/>
<rect x="252" y="1363" width="6" height="120.73" fill="#0ecb81"/>
<rect x="252" y="1361.11" width="3" height="122.61" fill="#0ecb81"/>
<rect x="261" y="1366.02" width="6" height="35.84" fill="#f6465d"/>
<rect x="261" y="1348.66" width="3" height="53.2" fill="#f6465d"/>
<rect x="270" y="1399.97" width="9" height="6.41" fill="#f6465d"/>
<rect x="273" y="1399.97" width="3" height="23.39" fill="#f6465d"/>
<rect x="282" y="1389.41" width="6" height="16.98" fill="#0ecb81"/>
<rect x="282" y="1386.77" width="3" height="34.71" fill="#0ecb81"/>
<rect x="291" y="1387.52" width="6" height="5.66" fill="#0ecb81"/>
<rect x="291" y="1383.75" width="3" height="22.64" fill="#0ecb81"/>
<rect x="300" y="1387.52" width="9" height="22.64" fill="#f6465d"/>
<rect x="312" y="1402.61" width="6" height="7.55" fill="#0ecb81"/>
<rect x="312" y="1395.07" width="3" height="22.64" fill="#0ecb81"/>
<rect x="321" y="1353.57" width="6" height="52.82" fill="#0ecb81"/>
<rect x="321" y="1349.04" width="3" height="57.35" fill="#0ecb81"/>
<rect x="330" y="1355.45" width="9" height="3.77" fill="#f6465d"/>
<rect x="333" y="1343.38" width="3" height="17.73" fill="#f6465d"/>
<rect x="342" y="1356.59" width="6" height="12.07" fill="#f6465d"/>
<rect x="342" y="1356.59" width="3" height="20.75" fill="#f6465d"/>
<rect x="351" y="1359.23" width="6" height="16.98" fill="#f6465d"/>
<rect x="351" y="1359.23" width="3" height="18.86" fill="#f6465d"/>
<rect x="360" y="1345.27" width="9" height="30.94" fill="#0ecb81"/>
<rect x="372" y="1332.82" width="6" height="14.34" fill="#0ecb81"/>
<rect x="372" y="1314.71" width="3" height="32.45" fill="#0ecb81"/>
<rect x="381" y="1328.29" width="6" height="6.41" fill="#0ecb81"/>
<rect x="381" y="1324.52" width="3" height="24.52" fill="#0ecb81"/>
<rect x="390" y="1328.29" width="6" height="13.2" fill="#f6465d"/>
<rect x="393" y="1322.25" width="3" height="21.13" fill="#f6465d"/>
<rect x="402" y="1339.61" width="6" height="27.16" fill="#f6465d"/>
<rect x="402" y="1339.61" width="3" height="35.46" fill="#f6465d"/>
<rect x="411" y="1362.25" width="6" height="3.77" fill="#0ecb81"/>
<rect x="411" y="1355.45" width="3" height="15.85" fill="#0ecb81"/>
<rect x="420" y="1363" width="6" height="15.85" fill="#f6465d"/>
<rect x="423" y="1363" width="3" height="28.3" fill="#f6465d"/>
<rect x="432" y="1373.56" width="6" height="3.77" fill="#0ecb81"/>
<rect x="432" y="1366.77" width="3" height="15.09" fill="#0ecb81"/>
<rect x="441" y="1367.53" width="6" height="8.68" fill="#0ecb81"/>
<rect x="441" y="1363.75" width="3" height="17.35" fill="#0ecb81"/>
<rect x="450" y="1367.53" width="6" height="14.34" fill="#f6465d"/>
<rect x="453" y="1367.53" width="3" height="19.24" fill="#f6465d"/>
<rect x="462" y="1378.85" width="6" height="25.65" fill="#f6465d"/>
<rect x="471" y="1383.75" width="6" height="20.75" fill="#0ecb81"/>
<rect x="471" y="1379.98" width="3" height="29.43" fill="#0ecb81"/>
<rect x="480" y="1373.56" width="6" height="11.32" fill="#0ecb81"/>
<rect x="483" y="1370.55" width="3" height="20" fill="#0ecb81"/>
<rect x="492" y="1374.32" width="6" height="3.02" fill="#f6465d"/>
<rect x="492" y="1370.55" width="3" height="11.32" fill="#f6465d"/>
<rect x="501" y="1373.56" width="6" height="3" fill="#f6465d"/>
<rect x="501" y="1367.53" width="3" height="13.58" fill="#f6465d"/>
<rect x="510" y="1375.07" width="6" height="6.79" fill="#f6465d"/>
<rect x="513" y="1375.07" width="3" height="18.11" fill="#f6465d"/>
<rect x="522" y="1370.55" width="6" height="10.56" fill="#0ecb81"/>
<rect x="522" y="1370.55" width="3" height="14.34" fill="#0ecb81"/>
<rect x="531" y="1361.87" width="6" height="9.81" fill="#0ecb81"/>
<rect x="540" y="1358.1" width="6" height="5.66" fill="#0ecb81"/>
<rect x="543" y="1353.57" width="3" height="12.07" fill="#0ecb81"/>
<rect x="549" y="1339.61" width="9" height="19.62" fill="#0ecb81"/>
<rect x="552" y="1339.61" width="3" height="23.39" fill="#0ecb81"/>
<rect x="561" y="1339.61" width="6" height="12.83" fill="#f6465d"/>
<rect x="561" y="1339.61" width="3" height="20.75" fill="#f6465d"/>
<rect x="570" y="1338.48" width="6" height="13.96" fill="#0ecb81"/>
<rect x="579" y="1324.14" width="9" height="16.22" fill="#0ecb81"/>
<rect x="591" y="1323.39" width="6" height="3.77" fill="#f6465d"/>
<rect x="591" y="1316.6" width="3" height="15.09" fill="#f6465d"/>
<rect x="600" y="1324.52" width="6" height="4.53" fill="#f6465d"/>
<rect x="600" y="1320.75" width="3" height="16.98" fill="#f6465d"/>
<rect x="609" y="1316.6" width="9" height="13.58" fill="#0ecb81"/>
<rect x="621" y="1293.2" width="6" height="25.65" fill="#0ecb81"/>
<rect x="621" y="1292.07" width="3" height="26.79" fill="#0ecb81"/>
<rect x="630" y="1293.2" width="6" height="5.66" fill="#f6465d"/>
<rect x="630" y="1293.2" width="3" height="18.86" fill="#f6465d"/>
<rect x="639" y="1288.3" width="9" height="10.56" fill="#0ecb81"/>
<rect x="642" y="1288.3" width="3" height="21.13" fill="#0ecb81"/>
<rect x="651" y="1287.55" width="6" height="10.56" fill="#f6465d"/>
<rect x="651" y="1285.66" width="3" height="12.45" fill="#f6465d"/>
<rect x="660" y="1296.22" width="6" height="29.05" fill="#f6465d"/>
<rect x="669" y="1323.39" width="9" height="8.3" fill="#f6465d"/>
<rect x="672" y="1318.48" width="3" height="13.2" fill="#f6465d"/>
<rect x="681" y="1312.07" width="6" height="19.62" fill="#0ecb81"/>
<rect x="690" y="1311.31" width="6" height="20.75" fill="#f6465d"/>
<rect x="690" y="1307.54" width="3" height="24.52" fill="#f6465d"/>
<rect x="699" y="1330.18" width="6" height="16.98" fill="#f6465d"/>
<rect x="702" y="1328.29" width="3" height="28.3" fill="#f6465d"/>
<rect x="711" y="1342.25" width="6" height="4.9" fill="#0ecb81"/>
<rect x="711" y="1339.23" width="3" height="9.81" fill="#0ecb81"/>
<rect x="720" y="1338.48" width="6" height="5.66" fill="#0ecb81"/>
<rect x="720" y="1330.93" width="3" height="15.85" fill="#0ecb81"/>
<rect x="729" y="1329.05" width="6" height="13.2" fill="#0ecb81"/>
<rect x="732" y="1320.75" width="3" height="21.5" fill="#0ecb81"/>
<rect x="741" y="1316.97" width="6" height="15.85" fill="#0ecb81"/>
<rect x="750" y="1316.97" width="6" height="19.62" fill="#f6465d"/>
<rect x="750" y="1315.09" width="3" height="21.5" fill="#f6465d"/>
<rect x="759" y="1332.06" width="6" height="4.53" fill="#0ecb81"/>
<rect x="762" y="1330.18" width="3" height="13.96" fill="#0ecb81"/>
<rect x="771" y="1327.16" width="6" height="8.68" fill="#0ecb81"/>
<rect x="771" y="1324.52" width="3" height="12.83" fill="#0ecb81"/>
<rect x="780" y="1320.37" width="6" height="10.56" fill="#0ecb81"/>
<rect x="780" y="1320.37" width="3" height="16.22" fill="#0ecb81"/>
<rect x="789" y="1320.37" width="6" height="15.47" fill="#f6465d"/>
<rect x="801" y="1333.95" width="6" height="20.75" fill="#f6465d"/>
<rect x="810" y="1349.04" width="6" height="5.66" fill="#0ecb81"/>
<rect x="810" y="1347.15" width="3" height="7.55" fill="#0ecb81"/>
<rect x="819" y="1349.8" width="6" height="8.3" fill="#f6465d"/>
<rect x="831" y="1355.45" width="6" height="8.3" fill="#f6465d"/>
<rect x="831" y="1351.68" width="3" height="18.11" fill="#f6465d"/>
<rect x="840" y="1362.25" width="6" height="12.07" fill="#f6465d"/>
<rect x="840" y="1362.25" width="3" height="14.71" fill="#f6465d"/>
<rect x="849" y="1355.45" width="6" height="18.11" fill="#0ecb81"/>
<rect x="852" y="1355.45" width="3" height="22.64" fill="#0ecb81"/>
<rect x="858" y="1355.45" width="9" height="14.34" fill="#f6465d"/>
<rect x="870" y="1357.34" width="6" height="13.2" fill="#0ecb81"/>
<rect x="870" y="1354.32" width="3" height="20" fill="#0ecb81"/>
<rect x="879" y="1359.23" width="6" height="3.77" fill="#f6465d"/>
<rect x="879" y="1359.23" width="3" height="6.41" fill="#f6465d"/>
<rect x="888" y="1360.36" width="9" height="3" fill="#0ecb81"/>
<rect x="891" y="1360.36" width="3" height="4.53" fill="#0ecb81"/>
<rect x="900" y="1360.36" width="6" height="4.53" fill="#f6465d"/>
<rect x="909" y="1363" width="6" height="7.55" fill="#f6465d"/>
<rect x="918" y="1367.9" width="9" height="19.62" fill="#f6465d"/>
<rect x="921" y="1367.9" width="3" height="21.5" fill="#f6465d"/>
<rect x="930" y="1383.75" width="6" height="11.32" fill="#f6465d"/>
<rect x="930" y="1383.75" width="3" height="13.2" fill="#f6465d"/>
<rect x="939" y="1385.64" width="6" height="9.43" fill="#0ecb81"/>
<rect x="948" y="1385.64" width="9" height="3.02" fill="#f6465d"/>
<rect x="951" y="1385.64" width="3" height="6.79" fill="#f6465d"/>
<rect x="960" y="1379.98" width="6" height="8.3" fill="#0ecb81"/>
<rect x="969" y="1379.98" width="6" height="12.07" fill="#f6465d"/>
<rect x="978" y="1381.11" width="9" height="10.94" fill="#0ecb81"/>
<rect x="981" y="1381.11" width="3" height="12.83" fill="#0ecb81"/>
<rect x="990" y="1374.32" width="6" height="9.43" fill="#0ecb81"/>
<rect x="999" y="1360.36" width="6" height="15.85" fill="#0ecb81"/>
<rect x="1008" y="1360.36" width="9" height="6.41" fill="#f6465d"/>
<rect x="1011" y="1360.36" width="3" height="9.05" fill="#f6465d"/>
<rect x="1020" y="1365.64" width="6" height="5.66" fill="#f6465d"/>
<rect x="1029" y="1369.41" width="6" height="8.68" fill="#f6465d"/>
<rect x="1038" y="1376.19" width="6" height="20.23" fill="#f6465d"/>
<rect x="1041" y="1376.19" width="3" height="25.19" fill="#f6465d"/>
<rect x="1050" y="1393.75" width="6" height="22.9" fill="#f6465d"/>
<rect x="1059" y="1409.78" width="6" height="6.87" fill="#0ecb81"/>
<rect x="1059" y="1409.78" width="3" height="20.99" fill="#0ecb81"/>
<rect x="1068" y="1400.62" width="6" height="11.83" fill="#0ecb81"/>
<rect x="1080" y="1390.7" width="6" height="12.21" fill="#0ecb81"/>
<rect x="1080" y="1388.79" width="3" height="14.12" fill="#0ecb81"/>
<rect x="1089" y="1386.88" width="6" height="7.63" fill="#0ecb81"/>
<rect x="1089" y="1386.88" width="3" height="12.6" fill="#0ecb81"/>
<rect x="1098" y="1374.66" width="6" height="14.89" fill="#0ecb81"/>
<rect x="1110" y="1367.03" width="6" height="10.31" fill="#0ecb81"/>
<rect x="1110" y="1363.98" width="3" height="13.36" fill="#0ecb81"/>
<rect x="1119" y="1367.79" width="6" height="8.4" fill="#f6465d"/>
<rect x="1119" y="1367.79" width="3" height="11.45" fill="#f6465d"/>
<rect x="1128" y="1370.46" width="6" height="20.23" fill="#f6465d"/>
<rect x="1140" y="1381.53" width="6" height="9.16" fill="#0ecb81"/>
<rect x="1149" y="1380.39" width="6" height="3.44" fill="#0ecb81"/>
<rect x="1149" y="1376.57" width="3" height="7.25" fill="#0ecb81"/>
<rect x="1158" y="1373.52" width="6" height="10.31" fill="#0ecb81"/>
<rect x="1161" y="1370.85" width="3" height="12.98" fill="#0ecb81"/>
<rect x="1167" y="1374.28" width="9" height="15.27" fill="#f6465d"/>
<rect x="1179" y="1386.88" width="6" height="3.05" fill="#0ecb81"/>
<rect x="1179" y="1386.88" width="3" height="4.58" fill="#0ecb81"/>
<rect x="1188" y="1374.66" width="6" height="13.36" fill="#0ecb81"/>
<rect x="1188" y="1371.61" width="3" height="16.41" fill="#0ecb81"/>
<rect x="1197" y="1375.43" width="9" height="5.73" fill="#f6465d"/>
<rect x="1200" y="1373.52" width="3" height="7.63" fill="#f6465d"/>
<rect x="1209" y="1379.24" width="6" height="3.82" fill="#f6465d"/>
<rect x="1218" y="1380.39" width="6" height="12.98" fill="#f6465d"/>
<rect x="1227" y="1386.88" width="9" height="6.49" fill="#0ecb81"/>
<rect x="1239" y="1386.88" width="6" height="3.05" fill="#f6465d"/>
<rect x="1248" y="1386.11" width="6" height="13.36" fill="#f6465d"/>
<rect x="1248" y="1383.82" width="3" height="15.65" fill="#f6465d"/>
<rect x="1257" y="1395.28" width="9" height="4.2" fill="#0ecb81"/>
<rect x="1260" y="1391.84" width="3" height="9.54" fill="#0ecb81"/>
<rect x="1269" y="1395.66" width="6" height="3" fill="#f6465d"/>
<rect x="1278" y="1393.75" width="6" height="4.58" fill="#0ecb81"/>
<rect x="1278" y="1390.7" width="3" height="7.63" fill="#0ecb81"/>
<rect x="1287" y="1396.42" width="9" height="5.73" fill="#f6465d"/>
<rect x="1299" y="1400.24" width="6" height="3" fill="#0ecb81"/>
<rect x="1308" y="1395.66" width="6" height="6.49" fill="#0ecb81"/>
<rect x="1308" y="1392.6" width="3" height="9.54" fill="#0ecb81"/>
<rect x="1317" y="1395.66" width="9" height="7.25" fill="#f6465d"/>
<rect x="1320" y="1391.46" width="3" height="11.45" fill="#f6465d"/>
<rect x="1329" y="1397.57" width="6" height="4.58" fill="#0ecb81"/>
<rect x="1338" y="1397.57" width="6" height="8.4" fill="#f6465d"/>
<rect x="1347" y="1404.06" width="6" height="7.63" fill="#f6465d"/>
<rect x="1350" y="1402.15" width="3" height="9.54" fill="#f6465d"/>
<rect x="1359" y="1404.06" width="6" height="6.87" fill="#0ecb81"/>
<rect x="1368" y="1404.06" width="6" height="8.78" fill="#f6465d"/>
<rect x="1377" y="1410.54" width="6" height="4.96" fill="#f6465d"/>
<rect x="1380" y="1410.54" width="3" height="7.63" fill="#f6465d"/>
<rect x="1389" y="1404.06" width="6" height="11.45" fill="#0ecb81"/>
<rect x="1398" y="1394.51" width="6" height="11.45" fill="#0ecb81"/>
<rect x="1407" y="1394.51" width="6" height="13.74" fill="#f6465d"/>
<rect x="1419" y="1405.96" width="6" height="4.96" fill="#f6465d"/>
<rect x="1428" y="1408.64" width="6" height="11.07" fill="#f6465d"/>
<rect x="1437" y="1411.69" width="6" height="8.02" fill="#0ecb81"/>
<rect x="1440" y="1407.87" width="3" height="11.83" fill="#0ecb81"/>
<rect x="1449" y="1412.45" width="6" height="3" fill="#0ecb81"/>
<rect x="1458" y="1412.45" width="6" height="3.44" fill="#f6465d"/>
<rect x="1458" y="1412.45" width="3" height="4.96" fill="#f6465d"/>
<rect x="1467" y="1410.93" width="6" height="4.58" fill="#0ecb81"/>
<rect x="1470" y="1407.87" width="3" height="7.63" fill="#0ecb81"/>
<rect x="1479" y="1407.11" width="6" height="6.49" fill="#0ecb81"/>
<rect x="1479" y="1404.82" width="3" height="8.78" fill="#0ecb81"/>
<rect x="1488" y="1399.47" width="6" height="10.31" fill="#0ecb81"/>
<rect x="1497" y="1386.11" width="6" height="15.27" fill="#0ecb81"/>
<rect x="1506" y="1370.85" width="9" height="16.8" fill="#0ecb81"/>
<rect x="1509" y="1367.03" width="3" height="20.61" fill="#0ecb81"/>
<rect x="1518" y="1371.61" width="6" height="16.03" fill="#f6465d"/>
<rect x="1518" y="1367.03" width="3" height="20.61" fill="#f6465d"/>
<rect x="1527" y="1385.73" width="6" height="7.63" fill="#f6465d"/>
<rect x="1527" y="1385.73" width="3" height="10.69" fill="#f6465d"/>
<rect x="1536" y="1388.02" width="9" height="8.4" fill="#f6465d"/>
<rect x="1548" y="1393.75" width="6" height="9.16" fill="#f6465d"/>
<rect x="1548" y="1393.75" width="3" height="11.07" fill="#f6465d"/>
<rect x="1557" y="1399.09" width="6" height="26.72" fill="#f6465d"/>
<rect x="1566" y="1423.52" width="9" height="12.98" fill="#f6465d"/>
<rect x="1569" y="1423.52" width="3" height="40.46" fill="#f6465d"/>
<rect x="1578" y="1433.83" width="6" height="13.36" fill="#f6465d"/>
<rect x="1578" y="1433.83" width="3" height="15.27" fill="#f6465d"/>
<rect x="1587" y="1424.29" width="6" height="23.67" fill="#0ecb81"/>
<rect x="1587" y="1420.47" width="3" height="32.06" fill="#0ecb81"/>
<rect x="1596" y="1420.47" width="9" height="7.25" fill="#0ecb81"/>
<rect x="1599" y="1420.47" width="3" height="9.16" fill="#0ecb81"/>
<rect x="1608" y="1418.56" width="6" height="3.44" fill="#0ecb81"/>
<rect x="1608" y="1415.51" width="3" height="9.54" fill="#0ecb81"/>
<rect x="1617" y="1419.32" width="6" height="14.12" fill="#f6465d"/>
<rect x="1626" y="1426.96" width="9" height="6.49" fill="#0ecb81"/>
<rect x="1638" y="1426.96" width="6" height="13.36" fill="#f6465d"/>
<rect x="1638" y="1426.96" width="3" height="23.67" fill="#f6465d"/>
<rect x="1647" y="1434.59" width="6" height="11.45" fill="#f6465d"/>
<rect x="1647" y="1431.92" width="3" height="14.12" fill="#f6465d"/>
<rect x="1656" y="1444.13" width="9" height="17.56" fill="#f6465d"/>
<rect x="1668" y="1456.35" width="6" height="6.11" fill="#0ecb81"/>
<rect x="1668" y="1454.82" width="3" height="12.21" fill="#0ecb81"/>
<rect x="1677" y="1457.49" width="6" height="22.14" fill="#f6465d"/>
<rect x="1677" y="1457.49" width="3" height="34.35" fill="#f6465d"/>
<rect x="1686" y="1464.37" width="6" height="14.89" fill="#0ecb81"/>
<rect x="1689" y="1462.46" width="3" height="16.8" fill="#0ecb81"/>
<rect x="1698" y="1464.37" width="6" height="11.07" fill="#f6465d"/>
<rect x="1707" y="1472.76" width="6" height="4.96" fill="#f6465d"/>
<rect x="1707" y="1470.09" width="3" height="9.16" fill="#f6465d"/>
<rect x="1716" y="1474.67" width="6" height="8.78" fill="#f6465d"/>
<rect x="1719" y="1470.85" width="3" height="12.6" fill="#f6465d"/>
<rect x="1728" y="1476.58" width="6" height="6.49" fill="#0ecb81"/>
<rect x="1728" y="1470.85" width="3" height="13.36" fill="#0ecb81"/>
<rect x="1737" y="1477.34" width="6" height="3.05" fill="#0ecb81"/>
<rect x="1737" y="1477.34" width="3" height="12.6" fill="#0ecb81"/>
<rect x="1746" y="1470.09" width="6" height="9.16" fill="#0ecb81"/>
<rect x="1758" y="1467.04" width="6" height="4.96" fill="#0ecb81"/>
<rect x="1758" y="1460.55" width="3" height="12.21" fill="#0ecb81"/>
<rect x="1767" y="1462.07" width="6" height="8.78" fill="#0ecb81"/>
<rect x="1776" y="1462.07" width="6" height="3" fill="#f6465d"/>
<rect x="1788" y="1456.35" width="6" height="8.02" fill="#0ecb81"/>
<rect x="1788" y="1454.44" width="3" height="9.92" fill="#0ecb81"/>
<rect x="1797" y="1456.73" width="6" height="10.31" fill="#f6465d"/>
<rect x="1806" y="1465.13" width="6" height="3" fill="#f6465d"/>
<rect x="1815" y="1460.55" width="9" height="6.49" fill="#0ecb81"/>
<rect x="1818" y="1460.55" width="3" height="12.21" fill="#0ecb81"/>
<rect x="1827" y="1447.19" width="6" height="15.27" fill="#0ecb81"/>
<rect x="1836" y="1447.19" width="6" height="16.03" fill="#f6465d"/>
<rect x="1845" y="1461.31" width="9" height="5.73" fill="#f6465d"/>
<rect x="1857" y="1457.49" width="6" height="9.54" fill="#0ecb81"/>
<rect x="1857" y="1455.59" width="3" height="11.45" fill="#0ecb81"/>
<rect x="1866" y="1458.26" width="6" height="10.69" fill="#f6465d"/>
<rect x="1875" y="1466.27" width="9" height="15.27" fill="#f6465d"/>
<rect x="1887" y="1479.5" width="6" height="9.08" fill="#f6465d"/>
<rect x="1887" y="1479.5" width="3" height="10.18" fill="#f6465d"/>
<rect x="1896" y="1481.71" width="6" height="3.3" fill="#0ecb81"/>
<rect x="1905" y="1481.43" width="9" height="11.01" fill="#f6465d"/>
<rect x="1917" y="1489.96" width="6" height="17.89" fill="#f6465d"/>
<rect x="1926" y="1494.64" width="6" height="13.76" fill="#0ecb81"/>
<rect x="1926" y="1491.34" width="3" height="19.26" fill="#0ecb81"/>
<rect x="1935" y="1494.64" width="9" height="6.88" fill="#f6465d"/>
<rect x="1938" y="1494.64" width="3" height="10.46" fill="#f6465d"/>
<rect x="1947" y="1498.77" width="6" height="5.5" fill="#f6465d"/>
<rect x="1947" y="1497.39" width="3" height="11.01" fill="#f6465d"/>
<rect x="1956" y="1494.64" width="6" height="9.63" fill="#0ecb81"/>
<rect x="1965" y="1491.89" width="9" height="4.95" fill="#0ecb81"/>
<rect x="1977" y="1473.45" width="6" height="20.64" fill="#0ecb81"/>
<rect x="1977" y="1464.92" width="3" height="29.17" fill="#0ecb81"/>
<rect x="1986" y="1473.45" width="6" height="7.43" fill="#f6465d"/>
<rect x="1986" y="1473.45" width="3" height="11.56" fill="#f6465d"/>
<rect x="1995" y="1474" width="6" height="6.88" fill="#0ecb81"/>
<rect x="1998" y="1467.95" width="3" height="12.93" fill="#0ecb81"/>
<rect x="2007" y="1471.25" width="6" height="4.95" fill="#0ecb81"/>
<rect x="2007" y="1467.12" width="3" height="9.08" fill="#0ecb81"/>
<rect x="2016" y="1466.3" width="6" height="7.71" fill="#0ecb81"/>
<rect x="2016" y="1466.3" width="3" height="9.08" fill="#0ecb81"/>
<rect x="2025" y="1463.54" width="6" height="4.95" fill="#0ecb81"/>
<rect x="2028" y="1463.54" width="3" height="9.91" fill="#0ecb81"/>
<rect x="2037" y="1463.54" width="6" height="8.26" fill="#f6465d"/>
<rect x="2037" y="1463.54" width="3" height="15.13" fill="#f6465d"/>
<rect x="2046" y="1460.79" width="6" height="11.01" fill="#0ecb81"/>
<rect x="2055" y="1456.11" width="6" height="7.71" fill="#0ecb81"/>
<rect x="2058" y="1451.16" width="3" height="16.79" fill="#0ecb81"/>
<rect x="2067" y="1447.03" width="6" height="13.21" fill="#0ecb81"/>
<rect x="2067" y="1447.03" width="3" height="16.79" fill="#0ecb81"/>
<rect x="2076" y="1445.11" width="6" height="4.95" fill="#0ecb81"/>
<rect x="2076" y="1439.05" width="3" height="17.06" fill="#0ecb81"/>
<rect x="2085" y="1445.66" width="6" height="3" fill="#0ecb81"/>
<rect x="2088" y="1445.66" width="3" height="13.21" fill="#0ecb81"/>
<rect x="2097" y="1445.66" width="6" height="7.15" fill="#f6465d"/>
<rect x="2097" y="1445.66" width="3" height="15.96" fill="#f6465d"/>
<rect x="2106" y="1449.24" width="6" height="17.34" fill="#f6465d"/>
<rect x="2115" y="1461.07" width="6" height="5.5" fill="#0ecb81"/>
<rect x="2118" y="1461.07" width="3" height="12.93" fill="#0ecb81"/>
<rect x="2127" y="1461.62" width="6" height="5.5" fill="#f6465d"/>
<rect x="2127" y="1461.62" width="3" height="7.43" fill="#f6465d"/>
<rect x="2136" y="1460.24" width="6" height="6.88" fill="#0ecb81"/>
<rect x="2145" y="1434.1" width="6" height="28.07" fill="#0ecb81"/>
<rect x="2148" y="1428.05" width="3" height="34.12" fill="#0ecb81"/>
<rect x="2154" y="1434.1" width="9" height="9.08" fill="#f6465d"/>
<rect x="2166" y="1441.53" width="6" height="9.91" fill="#f6465d"/>
<rect x="2175" y="1430.52" width="6" height="20.91" fill="#0ecb81"/>
<rect x="2184" y="1429.15" width="9" height="4.13" fill="#0ecb81"/>
<rect x="2187" y="1429.15" width="3" height="9.08" fill="#0ecb81"/>
<rect x="2196" y="1428.05" width="6" height="3" fill="#0ecb81"/>
<rect x="2196" y="1428.05" width="3" height="8.26" fill="#0ecb81"/>
<rect x="2205" y="1423.92" width="6" height="6.05" fill="#0ecb81"/>
<rect x="2205" y="1423.92" width="3" height="10.73" fill="#0ecb81"/>
<rect x="2214" y="1415.66" width="9" height="11.01" fill="#0ecb81"/>
<rect x="2217" y="1415.66" width="3" height="14.31" fill="#0ecb81"/>
<rect x="2226" y="1416.21" width="6" height="6.88" fill="#f6465d"/>
<rect x="2226" y="1416.21" width="3" height="14.58" fill="#f6465d"/>
<rect x="2235" y="1420.89" width="6" height="9.08" fill="#f6465d"/>
<rect x="2244" y="1428.05" width="9" height="5.5" fill="#f6465d"/>
<rect x="2256" y="1430.8" width="6" height="6.6" fill="#f6465d"/>
<rect x="2256" y="1428.05" width="3" height="9.36" fill="#f6465d"/>
<rect x="2265" y="1431.9" width="6" height="4.95" fill="#0ecb81"/>
<rect x="2265" y="1428.05" width="3" height="8.81" fill="#0ecb81"/>
<rect x="2274" y="1427.77" width="9" height="6.88" fill="#0ecb81"/>
<rect x="2286" y="1426.67" width="6" height="3" fill="#0ecb81"/>
<rect x="2295" y="1392.82" width="6" height="35.77" fill="#0ecb81"/>
<rect x="2295" y="1391.45" width="3" height="37.15" fill="#0ecb81"/>
<rect x="2304" y="1395.02" width="9" height="11.56" fill="#f6465d"/>
<rect x="2307" y="1395.02" width="3" height="15.13" fill="#f6465d"/>
<rect x="2316" y="1403.28" width="6" height="4.68" fill="#0ecb81"/>
<rect x="2316" y="1397.78" width="3" height="12.11" fill="#0ecb81"/>
<rect x="2325" y="1388.7" width="6" height="17.06" fill="#0ecb81"/>
<rect x="2334" y="1374.94" width="6" height="15.96" fill="#0ecb81"/>
<rect x="2346" y="1369.43" width="6" height="9.08" fill="#0ecb81"/>
<rect x="2346" y="1366.13" width="3" height="17.61" fill="#0ecb81"/>
<rect x="2355" y="1370.26" width="6" height="22.01" fill="#f6465d"/>
<rect x="2364" y="1384.02" width="6" height="8.81" fill="#f6465d"/>
<rect x="2367" y="1384.02" width="3" height="10.73" fill="#f6465d"/>
<rect x="2376" y="1386.77" width="6" height="4.68" fill="#0ecb81"/>
<rect x="2376" y="1386.77" width="3" height="12.11" fill="#0ecb81"/>
<rect x="2385" y="1386.77" width="6" height="11.01" fill="#f6465d"/>
<rect x="2394" y="1391.45" width="6" height="6.33" fill="#0ecb81"/>
<rect x="2406" y="1389.52" width="6" height="14.31" fill="#f6465d"/>
<rect x="2415" y="1391.45" width="6" height="12.38" fill="#0ecb81"/>
<rect x="2415" y="1391.45" width="3" height="17.34" fill="#0ecb81"/>
<rect x="2424" y="1390.9" width="6" height="12.38" fill="#f6465d"/>
<rect x="2436" y="1401.08" width="6" height="10.46" fill="#f6465d"/>
<rect x="2436" y="1401.08" width="3" height="15.13" fill="#f6465d"/>
<rect x="2445" y="1408.78" width="6" height="6.05" fill="#f6465d"/>
<rect x="2445" y="1408.78" width="3" height="12.11" fill="#f6465d"/>
<rect x="2454" y="1404.66" width="6" height="9.63" fill="#0ecb81"/>
<rect x="2463" y="1391.45" width="9" height="15.96" fill="#0ecb81"/>
<rect x="2475" y="1393.08" width="6" height="9.54" fill="#f6465d"/>
<rect x="2475" y="1391.72" width="3" height="14.99" fill="#f6465d"/>
<rect x="2484" y="1402.62" width="6" height="12.26" fill="#f6465d"/>
<rect x="2484" y="1399.07" width="3" height="15.8" fill="#f6465d"/>
<rect x="2493" y="1394.99" width="9" height="19.89" fill="#0ecb81"/>
<rect x="2496" y="1393.08" width="3" height="21.8" fill="#0ecb81"/>
<rect x="2505" y="1392.26" width="6" height="10.35" fill="#f6465d"/>
<rect x="2505" y="1389.81" width="3" height="12.81" fill="#f6465d"/>
<rect x="2514" y="1393.08" width="6" height="9.54" fill="#0ecb81"/>
<rect x="2514" y="1389.54" width="3" height="13.08" fill="#0ecb81"/>
<rect x="2523" y="1384.9" width="9" height="12.26" fill="#0ecb81"/>
<rect x="2526" y="1383" width="3" height="15.8" fill="#0ecb81"/>
<rect x="2535" y="1323.05" width="6" height="64.58" fill="#0ecb81"/>
<rect x="2535" y="1322.23" width="3" height="68.94" fill="#0ecb81"/>
<rect x="2544" y="1323.6" width="6" height="5.99" fill="#f6465d"/>
<rect x="2544" y="1323.05" width="3" height="28.34" fill="#f6465d"/>
<rect x="2553" y="1318.15" width="9" height="10.9" fill="#0ecb81"/>
<rect x="2556" y="1308.07" width="3" height="34.06" fill="#0ecb81"/>
<rect x="2565" y="1293.62" width="6" height="27.25" fill="#0ecb81"/>
<rect x="2565" y="1290.9" width="3" height="32.7" fill="#0ecb81"/>
<rect x="2574" y="1294.17" width="6" height="11.72" fill="#f6465d"/>
<rect x="2574" y="1294.17" width="3" height="18.53" fill="#f6465d"/>
<rect x="2583" y="1260.98" width="9" height="44.96" fill="#0ecb81"/>
<rect x="2586" y="1259.62" width="3" height="46.32" fill="#0ecb81"/>
<rect x="2595" y="1222.83" width="6" height="42.23" fill="#0ecb81"/>
<rect x="2595" y="1221.47" width="3" height="46.87" fill="#0ecb81"/>
<rect x="2604" y="1194.22" width="6" height="31.34" fill="#0ecb81"/>
<rect x="2604" y="1194.22" width="3" height="55.86" fill="#0ecb81"/>
<rect x="2613" y="1180.6" width="9" height="16.35" fill="#0ecb81"/>
<rect x="2625" y="1179.24" width="6" height="17.71" fill="#f6465d"/>
<rect x="2625" y="1179.24" width="3" height="25.89" fill="#f6465d"/>
<rect x="2634" y="1183.87" width="6" height="15.8" fill="#0ecb81"/>
<rect x="2634" y="1181.96" width="3" height="20.98" fill="#0ecb81"/>
<rect x="2643" y="1184.69" width="6" height="6.81" fill="#f6465d"/>
<rect x="2646" y="1176.51" width="3" height="14.99" fill="#f6465d"/>
<rect x="2655" y="1171.06" width="6" height="20.44" fill="#0ecb81"/>
<rect x="2664" y="1171.06" width="6" height="8.17" fill="#f6465d"/>
<rect x="2664" y="1171.06" width="3" height="14.99" fill="#f6465d"/>
<rect x="2673" y="1165.61" width="6" height="12.26" fill="#0ecb81"/>
<rect x="2676" y="1164.25" width="3" height="13.62" fill="#0ecb81"/>
<rect x="2685" y="1141.09" width="6" height="29.97" fill="#0ecb81"/>
<rect x="2685" y="1136.46" width="3" height="40.6" fill="#0ecb81"/>
<rect x="2694" y="1135.64" width="6" height="9.54" fill="#0ecb81"/>
<rect x="2694" y="1135.64" width="3" height="25.89" fill="#0ecb81"/>
<rect x="2703" y="1117.38" width="6" height="20.98" fill="#0ecb81"/>
<rect x="2706" y="1117.38" width="3" height="25.07" fill="#0ecb81"/>
<rect x="2715" y="1116.57" width="6" height="42.23" fill="#f6465d"/>
<rect x="2715" y="1115.2" width="3" height="47.14" fill="#f6465d"/>
<rect x="2724" y="1147.9" width="6" height="10.9" fill="#0ecb81"/>
<rect x="2724" y="1143.81" width="3" height="14.99" fill="#0ecb81"/>
<rect x="2733" y="1142.45" width="6" height="10.9" fill="#0ecb81"/>
<rect x="2736" y="1140.27" width="3" height="19.07" fill="#0ecb81"/>
<rect x="2745" y="1130.19" width="6" height="15.53" fill="#0ecb81"/>
<rect x="2754" y="1129.37" width="6" height="16.35" fill="#f6465d"/>
<rect x="2754" y="1118.75" width="3" height="26.98" fill="#f6465d"/>
<rect x="2763" y="1143" width="6" height="22.62" fill="#f6465d"/>
<rect x="2766" y="1143" width="3" height="23.98" fill="#f6465d"/>
<rect x="2775" y="1161.53" width="6" height="14.99" fill="#f6465d"/>
<rect x="2775" y="1151.44" width="3" height="25.07" fill="#f6465d"/>
<rect x="2784" y="1172.97" width="6" height="22.62" fill="#f6465d"/>
<rect x="2793" y="1192.86" width="6" height="6.81" fill="#f6465d"/>
<rect x="2793" y="1192.86" width="3" height="8.99" fill="#f6465d"/>
<rect x="2802" y="1196.95" width="9" height="7.63" fill="#f6465d"/>
<rect x="2805" y="1189.32" width="3" height="15.26" fill="#f6465d"/>
<rect x="2814" y="1194.77" width="6" height="9.81" fill="#0ecb81"/>
<rect x="2814" y="1191.5" width="3" height="13.08" fill="#0ecb81"/>
<rect x="2823" y="1181.96" width="6" height="15.53" fill="#0ecb81"/>
<rect x="2823" y="1172.97" width="3" height="24.52" fill="#0ecb81"/>
<rect x="2832" y="1181.96" width="9" height="10.9" fill="#f6465d"/>
<rect x="2835" y="1180.6" width="3" height="13.62" fill="#f6465d"/>
<rect x="2844" y="1175.69" width="6" height="17.17" fill="#0ecb81"/>
<rect x="2844" y="1169.16" width="3" height="23.71" fill="#0ecb81"/>
<rect x="2853" y="1175.69" width="6" height="30.79" fill="#f6465d"/>
<rect x="2853" y="1172.43" width="3" height="38.15" fill="#f6465d"/>
<rect x="2862" y="1203.76" width="9" height="31.88" fill="#f6465d"/>
<rect x="2865" y="1202.4" width="3" height="40.87" fill="#f6465d"/>
<rect x="2874" y="1185.5" width="6" height="50.95" fill="#0ecb81"/>
<rect x="2874" y="1185.5" width="3" height="52.32" fill="#0ecb81"/>
<rect x="2883" y="1184.69" width="6" height="3.54" fill="#0ecb81"/>
<rect x="2883" y="1180.05" width="3" height="15.53" fill="#0ecb81"/>
<rect x="2892" y="1184.69" width="9" height="12.26" fill="#f6465d"/>
<rect x="2895" y="1177.87" width="3" height="21.25" fill="#f6465d"/>
<rect x="2904" y="1193.68" width="6" height="12.26" fill="#f6465d"/>
<rect x="2904" y="1186.87" width="3" height="19.07" fill="#f6465d"/>
<rect x="2913" y="1202.4" width="6" height="4.9" fill="#f6465d"/>
<rect x="2913" y="1198.31" width="3" height="9.54" fill="#f6465d"/>
<rect x="2922" y="1200.22" width="9" height="6.27" fill="#0ecb81"/>
<rect x="2925" y="1192.86" width="3" height="20.44" fill="#0ecb81"/>
<rect x="2934" y="1192.04" width="6" height="10.35" fill="#0ecb81"/>
<rect x="2934" y="1190.14" width="3" height="12.26" fill="#0ecb81"/>
<rect x="2943" y="1177.87" width="6" height="16.35" fill="#0ecb81"/>
<rect x="2943" y="1174.6" width="3" height="19.62" fill="#0ecb81"/>
<rect x="2952" y="1163.71" width="6" height="17.44" fill="#0ecb81"/>
<rect x="2955" y="1163.71" width="3" height="29.97" fill="#0ecb81"/>
<rect x="2964" y="1131.55" width="6" height="35.42" fill="#0ecb81"/>
<rect x="2964" y="1131.55" width="3" height="37.6" fill="#0ecb81"/>
<rect x="2973" y="1131.55" width="6" height="19.07" fill="#f6465d"/>
<rect x="2973" y="1122.02" width="3" height="47.68" fill="#f6465d"/>
<rect x="2982" y="1147.36" width="6" height="11.44" fill="#f6465d"/>
<rect x="2985" y="1147.36" width="3" height="32.43" fill="#f6465d"/>
<rect x="2994" y="1146.54" width="6" height="12.26" fill="#0ecb81"/>
<rect x="2994" y="1137.82" width="3" height="27.79" fill="#0ecb81"/>
<rect x="3003" y="1143" width="6" height="6.81" fill="#0ecb81"/>
<rect x="3003" y="1135.1" width="3" height="30.52" fill="#0ecb81"/>
<rect x="3012" y="1142.45" width="6" height="25.34" fill="#f6465d"/>
<rect x="3015" y="1138.37" width="3" height="29.43" fill="#f6465d"/>
<rect x="3024" y="1164.8" width="6" height="33.51" fill="#f6465d"/>
<rect x="3024" y="1159.35" width="3" height="38.96" fill="#f6465d"/>
<rect x="3033" y="1194.77" width="6" height="8.99" fill="#f6465d"/>
<rect x="3033" y="1186.59" width="3" height="21.25" fill="#f6465d"/>
<rect x="3042" y="1175.15" width="6" height="28.61" fill="#0ecb81"/>
<rect x="3045" y="1170.25" width="3" height="33.51" fill="#0ecb81"/>
<rect x="3054" y="1174.6" width="6" height="22.89" fill="#f6465d"/>
<rect x="3054" y="1168.88" width="3" height="28.61" fill="#f6465d"/>
<rect x="3063" y="1186.59" width="6" height="10.9" fill="#0ecb81"/>
<rect x="3063" y="1179.24" width="3" height="18.26" fill="#0ecb81"/>
<rect x="3072" y="1187.41" width="6" height="20.44" fill="#f6465d"/>
<rect x="3075" y="1182.78" width="3" height="30.52" fill="#f6465d"/>
</g>
<g id="labels"><text x="727.06" y="181" font-size="117" fill="#000" text-anchor="start" textLength="218.61" lengthAdjust="spacingAndGlyphs">BTC</text>
<text x="971.15" y="181" font-size="117" fill="#000" text-anchor="start" textLength="602.86" lengthAdjust="spacingAndGlyphs">Liquidation</text>
<text x="1600.72" y="181" font-size="117" fill="#000" text-anchor="start" textLength="668.17" lengthAdjust="spacingAndGlyphs">Heatmap(24</text>
<text x="2299.63" y="181" font-size="117" fill="#000" text-anchor="start" textLength="285.63" lengthAdjust="spacingAndGlyphs">hour)</text>
<text x="1357.7" y="337.5" font-size="36" fill="#333" text-anchor="start" textLength="179.93" lengthAdjust="spacingAndGlyphs">Liquidation</text>
<text x="1545.57" y="337.5" font-size="36" fill="#333" text-anchor="start" textLength="146.71" lengthAdjust="spacingAndGlyphs">Leverage</text>
<text x="1775" y="337.5" font-size="36" fill="#333" text-anchor="start" textLength="196.9" lengthAdjust="spacingAndGlyphs">Supercharts</text>
<text x="14.9" y="452" font-size="35" fill="#333" text-anchor="start" textLength="136.3" lengthAdjust="spacingAndGlyphs">118.62M</text>
<text x="72.9" y="2228.3" font-size="35" fill="#333" text-anchor="start" textLength="19.3" lengthAdjust="spacingAndGlyphs">0</text>
<text x="143" y="2230.6" font-size="35" fill="#000" text-anchor="start" textLength="144.2" lengthAdjust="spacingAndGlyphs">06, 17:35</text>
<text x="332.47" y="2230.6" font-size="35" fill="#000" text-anchor="start" textLength="144.2" lengthAdjust="spacingAndGlyphs">06, 19:10</text>
<text x="521.94" y="2230.6" font-size="35" fill="#000" text-anchor="start" textLength="144.2" lengthAdjust="spacingAndGlyphs">06, 20:45</text>
<text x="711.41" y="2230.6" font-size="35" fill="#000" text-anchor="start" textLength="144.2" lengthAdjust="spacingAndGlyphs">06, 22:20</text>
<text x="900.88" y="2230.6" font-size="35" fill="#000" text-anchor="start" textLength="144.2" lengthAdjust="spacingAndGlyphs">06, 23:55</text>
<text x="1090.35" y="2230.6" font-size="35" fill="#000" text-anchor="start" textLength="144.2" lengthAdjust="spacingAndGlyphs">07, 01:30</text>
<text x="1279.82" y="2230.6" font-size="35" fill="#000" text-anchor="start" textLength="144.2" lengthAdjust="spacingAndGlyphs">07, 03:05</text>
<text x="1469.29" y="2230.6" font-size="35" fill="#000" text-anchor="start" textLength="144.2" lengthAdjust="spacingAndGlyphs">07, 04:40</text>
<text x="1658.76" y="2230.6" font-size="35" fill="#000" text-anchor="start" textLength="144.2" lengthAdjust="spacingAndGlyphs">07, 06:15</text>
<text x="1848.23" y="2230.6" font-size="35" fill="#000" text-anchor="start" textLength="144.2" lengthAdjust="spacingAndGlyphs">07, 07:50</text>
<text x="2037.7" y="2230.6" font-size="35" fill="#000" text-anchor="start" textLength="144.2" lengthAdjust="spacingAndGlyphs">07, 09:25</text>
<text x="2227.17" y="2230.6" font-size="35" fill="#000" text-anchor="start" textLength="144.2" lengthAdjust="spacingAndGlyphs">07, 11:00</text>
<text x="2416.64" y="2230.6" font-size="35" fill="#000" text-anchor="start" textLength="144.2" lengthAdjust="spacingAndGlyphs">07, 12:35</text>
<text x="2606.11" y="2230.6" font-size="35" fill="#000" text-anchor="start" textLength="144.2" lengthAdjust="spacingAndGlyphs">07, 14:10</text>
<text x="2795.58" y="2230.6" font-size="35" fill="#000" text-anchor="start" textLength="144.2" lengthAdjust="spacingAndGlyphs">07, 15:45</text>
<text x="2985.05" y="2230.6" font-size="35" fill="#000" text-anchor="start" textLength="144.2" lengthAdjust="spacingAndGlyphs">07, 17:20</text>
<text x="3105.9" y="419" font-size="35" fill="#000" text-anchor="start" textLength="116.3" lengthAdjust="spacingAndGlyphs">121366</text>
<text x="3105.9" y="630.2" font-size="35" fill="#000" text-anchor="start" textLength="116.3" lengthAdjust="spacingAndGlyphs">120000</text>
<text x="3105.9" y="937.86" font-size="35" fill="#000" text-anchor="start" textLength="116.3" lengthAdjust="spacingAndGlyphs">118000</text>
<text x="3105.9" y="1245.52" font-size="35" fill="#000" text-anchor="start" textLength="116.3" lengthAdjust="spacingAndGlyphs">116000</text>
<text x="3105.9" y="1553.18" font-size="35" fill="#000" text-anchor="start" textLength="116.3" lengthAdjust="spacingAndGlyphs">114000</text>
<text x="3105.9" y="1860.84" font-size="35" fill="#000" text-anchor="start" textLength="116.3" lengthAdjust="spacingAndGlyphs">112000</text>
<text x="3105.9" y="2168.5" font-size="35" fill="#000" text-anchor="start" textLength="116.3" lengthAdjust="spacingAndGlyphs">110000</text></g>
<g id="wm"><text x="591.4" y="1204" font-size="239" fill="rgba(0,0,0,0.3)" textLength="2101.6" lengthAdjust="spacingAndGlyphs">www.coinglass.com</text>
<text x="47.6" y="2372.5" font-size="70" fill="rgba(0,0,0,0.12)" textLength="1199.5" lengthAdjust="spacingAndGlyphs">© 2025 CoinGlass, all rights reserved</text>
<text x="2561.9" y="2372.5" font-size="70" fill="rgba(0,0,0,0.12)" textLength="675" lengthAdjust="spacingAndGlyphs">2025-08-07 17:43:18</text></g>
</svg>
</body></html>
